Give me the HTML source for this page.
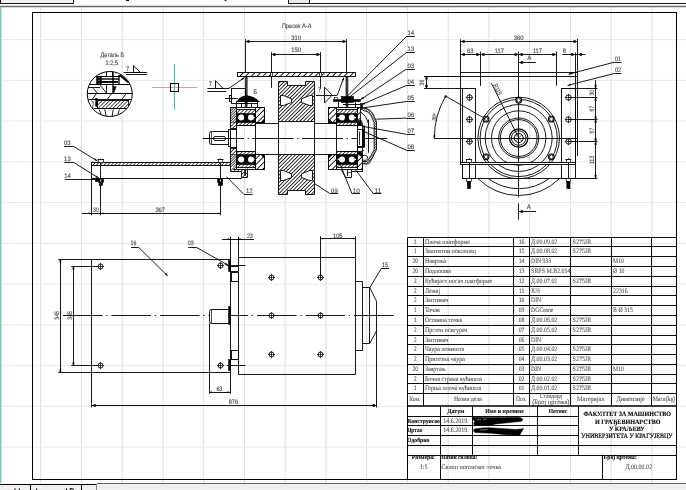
<!DOCTYPE html>
<html><head><meta charset="utf-8"><title>drawing</title>
<style>html,body{margin:0;padding:0;background:#fff;overflow:hidden}svg{shape-rendering:auto;text-rendering:geometricPrecision}</style></head>
<body>
<div style="will-change:transform;width:686px;height:490px;overflow:hidden">
<svg width="686" height="490" viewBox="0 0 686 490" style="display:block">
<defs>
<pattern id="hw" width="2.6" height="2.6" patternUnits="userSpaceOnUse" patternTransform="rotate(-45)"><rect width="2.6" height="2.6" fill="#fff"/><line x1="-1" y1="1.3" x2="4" y2="1.3" stroke="#000" stroke-width="0.8"/></pattern>
<pattern id="hp" width="4.1" height="4.1" patternUnits="userSpaceOnUse" patternTransform="rotate(-45)"><rect width="4.1" height="4.1" fill="#fff"/><line x1="-1" y1="2.05" x2="6" y2="2.05" stroke="#000" stroke-width="0.9"/></pattern>
<pattern id="hs" width="2.6" height="2.6" patternUnits="userSpaceOnUse" patternTransform="rotate(-45)"><rect width="2.6" height="2.6" fill="#fff"/><line x1="0" y1="0" x2="2.6" y2="0" stroke="#000" stroke-width="1.3"/></pattern>
<pattern id="hb" width="2.6" height="2.6" patternUnits="userSpaceOnUse" patternTransform="rotate(-45)"><rect width="2.6" height="2.6" fill="#000"/><line x1="0" y1="0" x2="2.6" y2="0" stroke="#fff" stroke-width="0.9"/><line x1="1.3" y1="0" x2="1.3" y2="1.2" stroke="#fff" stroke-width="0.5"/></pattern>
<pattern id="hd" width="1.8" height="1.8" patternUnits="userSpaceOnUse" patternTransform="rotate(-45)"><rect width="1.8" height="1.8" fill="#fff"/><line x1="0" y1="0" x2="1.8" y2="0" stroke="#000" stroke-width="1.5"/></pattern>
</defs>
<rect x="0" y="0" width="686" height="490" fill="#fff"/>
<line x1="40.71" y1="7" x2="40.71" y2="483.5" stroke="#dedede" stroke-width="1" />
<line x1="81.46" y1="7" x2="81.46" y2="483.5" stroke="#dedede" stroke-width="1" />
<line x1="122.2" y1="7" x2="122.2" y2="483.5" stroke="#dedede" stroke-width="1" />
<line x1="162.95" y1="7" x2="162.95" y2="483.5" stroke="#dedede" stroke-width="1" />
<line x1="203.7" y1="7" x2="203.7" y2="483.5" stroke="#dedede" stroke-width="1" />
<line x1="244.45" y1="7" x2="244.45" y2="483.5" stroke="#dedede" stroke-width="1" />
<line x1="285.19" y1="7" x2="285.19" y2="483.5" stroke="#dedede" stroke-width="1" />
<line x1="325.94" y1="7" x2="325.94" y2="483.5" stroke="#dedede" stroke-width="1" />
<line x1="366.69" y1="7" x2="366.69" y2="483.5" stroke="#dedede" stroke-width="1" />
<line x1="407.43" y1="7" x2="407.43" y2="483.5" stroke="#dedede" stroke-width="1" />
<line x1="448.18" y1="7" x2="448.18" y2="483.5" stroke="#dedede" stroke-width="1" />
<line x1="488.93" y1="7" x2="488.93" y2="483.5" stroke="#dedede" stroke-width="1" />
<line x1="529.67" y1="7" x2="529.67" y2="483.5" stroke="#dedede" stroke-width="1" />
<line x1="570.42" y1="7" x2="570.42" y2="483.5" stroke="#dedede" stroke-width="1" />
<line x1="611.17" y1="7" x2="611.17" y2="483.5" stroke="#dedede" stroke-width="1" />
<line x1="651.92" y1="7" x2="651.92" y2="483.5" stroke="#dedede" stroke-width="1" />
<line x1="1.5" y1="39.6" x2="686" y2="39.6" stroke="#e9e9e9" stroke-width="1" />
<line x1="1.5" y1="80.35" x2="686" y2="80.35" stroke="#e9e9e9" stroke-width="1" />
<line x1="1.5" y1="121.1" x2="686" y2="121.1" stroke="#e9e9e9" stroke-width="1" />
<line x1="1.5" y1="161.85" x2="686" y2="161.85" stroke="#e9e9e9" stroke-width="1" />
<line x1="1.5" y1="202.6" x2="686" y2="202.6" stroke="#e9e9e9" stroke-width="1" />
<line x1="1.5" y1="243.35" x2="686" y2="243.35" stroke="#e9e9e9" stroke-width="1" />
<line x1="1.5" y1="284.1" x2="686" y2="284.1" stroke="#e9e9e9" stroke-width="1" />
<line x1="1.5" y1="324.85" x2="686" y2="324.85" stroke="#e9e9e9" stroke-width="1" />
<line x1="1.5" y1="365.6" x2="686" y2="365.6" stroke="#e9e9e9" stroke-width="1" />
<line x1="1.5" y1="406.35" x2="686" y2="406.35" stroke="#e9e9e9" stroke-width="1" />
<line x1="1.5" y1="447.1" x2="686" y2="447.1" stroke="#e9e9e9" stroke-width="1" />
<rect x="0.5" y="-0.5" width="73.0" height="4.0" stroke="#000" stroke-width="0.9" fill="#f0f0f0" />
<rect x="288.5" y="-0.5" width="21.0" height="4.0" stroke="#000" stroke-width="0.9" fill="#e8e8e8" />
<line x1="309" y1="3.5" x2="686" y2="3.5" stroke="#000" stroke-width="0.9" />
<rect x="126" y="-1" width="3" height="2" stroke="none" stroke-width="0" fill="#000" />
<rect x="224.5" y="-1" width="2.0" height="1.8" stroke="none" stroke-width="0" fill="#000" />
<line x1="0" y1="6.5" x2="686" y2="6.5" stroke="#6a6a6a" stroke-width="1.3" />
<rect x="0" y="6.8" width="1.4" height="476.4" stroke="none" stroke-width="0" fill="#6ccfb0" />
<rect x="0" y="484" width="686" height="7" stroke="none" stroke-width="0" fill="#efefef" />
<line x1="0" y1="484.5" x2="97" y2="484.5" stroke="#000" stroke-width="1" />
<line x1="97" y1="483.5" x2="686" y2="483.5" stroke="#555" stroke-width="0.9" />
<line x1="30.5" y1="484" x2="30.5" y2="490" stroke="#000" stroke-width="1" />
<line x1="81.5" y1="484" x2="81.5" y2="490" stroke="#000" stroke-width="1" />
<line x1="96.5" y1="484" x2="96.5" y2="490" stroke="#777" stroke-width="0.9" />
<line x1="15" y1="488.4" x2="15" y2="490" stroke="#000" stroke-width="1.1" />
<line x1="19.3" y1="488.4" x2="19.3" y2="490" stroke="#000" stroke-width="1.1" />
<line x1="36.6" y1="488.4" x2="36.6" y2="490" stroke="#000" stroke-width="1.1" />
<line x1="66.5" y1="488.4" x2="66.5" y2="490" stroke="#000" stroke-width="1.1" />
<path d="M70.2 490 L70.2 488.6 L72 488.6 Q73.8 489 73.8 490" stroke="#000" stroke-width="1.0" fill="none" />
<rect x="32.5" y="12.5" width="644.0" height="467.0" stroke="#000" stroke-width="1.0" fill="none" />
<line x1="407.5" y1="237.5" x2="676.5" y2="237.5" stroke="#000" stroke-width="0.95" />
<line x1="407.5" y1="246.5" x2="676.5" y2="246.5" stroke="#000" stroke-width="0.95" />
<line x1="407.5" y1="256.5" x2="676.5" y2="256.5" stroke="#000" stroke-width="0.95" />
<line x1="407.5" y1="266.5" x2="676.5" y2="266.5" stroke="#000" stroke-width="0.95" />
<line x1="407.5" y1="276.5" x2="676.5" y2="276.5" stroke="#000" stroke-width="0.95" />
<line x1="407.5" y1="286.5" x2="676.5" y2="286.5" stroke="#000" stroke-width="0.95" />
<line x1="407.5" y1="295.5" x2="676.5" y2="295.5" stroke="#000" stroke-width="0.95" />
<line x1="407.5" y1="305.5" x2="676.5" y2="305.5" stroke="#000" stroke-width="0.95" />
<line x1="407.5" y1="315.5" x2="676.5" y2="315.5" stroke="#000" stroke-width="0.95" />
<line x1="407.5" y1="325.5" x2="676.5" y2="325.5" stroke="#000" stroke-width="0.95" />
<line x1="407.5" y1="335.5" x2="676.5" y2="335.5" stroke="#000" stroke-width="0.95" />
<line x1="407.5" y1="344.5" x2="676.5" y2="344.5" stroke="#000" stroke-width="0.95" />
<line x1="407.5" y1="354.5" x2="676.5" y2="354.5" stroke="#000" stroke-width="0.95" />
<line x1="407.5" y1="364.5" x2="676.5" y2="364.5" stroke="#000" stroke-width="0.95" />
<line x1="407.5" y1="374.5" x2="676.5" y2="374.5" stroke="#000" stroke-width="0.95" />
<line x1="407.5" y1="383.5" x2="676.5" y2="383.5" stroke="#000" stroke-width="0.95" />
<line x1="407.5" y1="393.5" x2="676.5" y2="393.5" stroke="#000" stroke-width="0.95" />
<line x1="407.5" y1="237.8" x2="407.5" y2="405.8" stroke="#000" stroke-width="0.95" />
<line x1="423.5" y1="237.8" x2="423.5" y2="405.8" stroke="#000" stroke-width="0.95" />
<line x1="513.5" y1="237.8" x2="513.5" y2="405.8" stroke="#000" stroke-width="0.95" />
<line x1="529.5" y1="237.8" x2="529.5" y2="405.8" stroke="#000" stroke-width="0.95" />
<line x1="570.5" y1="237.8" x2="570.5" y2="405.8" stroke="#000" stroke-width="0.95" />
<line x1="611.5" y1="237.8" x2="611.5" y2="405.8" stroke="#000" stroke-width="0.95" />
<line x1="651.5" y1="237.8" x2="651.5" y2="405.8" stroke="#000" stroke-width="0.95" />
<text x="415.3" y="244.3" font-family="'Liberation Serif', serif" font-size="6.7" font-weight="normal" text-anchor="middle" fill="#5a5a5a" textLength="2.9" lengthAdjust="spacingAndGlyphs"  stroke="#5a5a5a" stroke-width="0.12">1</text>
<text x="424.9" y="244.3" font-family="'Liberation Serif', serif" font-size="6.7" font-weight="normal" text-anchor="start" fill="#5a5a5a" textLength="45" lengthAdjust="spacingAndGlyphs"  stroke="#5a5a5a" stroke-width="0.12">Плоча платформе</text>
<text x="521.6" y="244.3" font-family="'Liberation Serif', serif" font-size="6.7" font-weight="normal" text-anchor="middle" fill="#5a5a5a" textLength="5.8" lengthAdjust="spacingAndGlyphs"  stroke="#5a5a5a" stroke-width="0.12">16</text>
<text x="531.1" y="244.3" font-family="'Liberation Serif', serif" font-size="6.7" font-weight="normal" text-anchor="start" fill="#5a5a5a" textLength="26.2" lengthAdjust="spacingAndGlyphs"  stroke="#5a5a5a" stroke-width="0.12">Д.00.09.02</text>
<text x="572.6" y="244.3" font-family="'Liberation Serif', serif" font-size="6.7" font-weight="normal" text-anchor="start" fill="#5a5a5a" textLength="18.6" lengthAdjust="spacingAndGlyphs"  stroke="#5a5a5a" stroke-width="0.12">S275JR</text>
<text x="415.3" y="253.2" font-family="'Liberation Serif', serif" font-size="6.7" font-weight="normal" text-anchor="middle" fill="#5a5a5a" textLength="2.9" lengthAdjust="spacingAndGlyphs"  stroke="#5a5a5a" stroke-width="0.12">1</text>
<text x="424.9" y="253.2" font-family="'Liberation Serif', serif" font-size="6.7" font-weight="normal" text-anchor="start" fill="#5a5a5a" textLength="51" lengthAdjust="spacingAndGlyphs"  stroke="#5a5a5a" stroke-width="0.12">Заштитни поклопац</text>
<text x="521.6" y="253.2" font-family="'Liberation Serif', serif" font-size="6.7" font-weight="normal" text-anchor="middle" fill="#5a5a5a" textLength="5.8" lengthAdjust="spacingAndGlyphs"  stroke="#5a5a5a" stroke-width="0.12">15</text>
<text x="531.1" y="253.2" font-family="'Liberation Serif', serif" font-size="6.7" font-weight="normal" text-anchor="start" fill="#5a5a5a" textLength="26.2" lengthAdjust="spacingAndGlyphs"  stroke="#5a5a5a" stroke-width="0.12">Д.00.08.02</text>
<text x="572.6" y="253.2" font-family="'Liberation Serif', serif" font-size="6.7" font-weight="normal" text-anchor="start" fill="#5a5a5a" textLength="18.6" lengthAdjust="spacingAndGlyphs"  stroke="#5a5a5a" stroke-width="0.12">S275JR</text>
<text x="415.3" y="263.0" font-family="'Liberation Serif', serif" font-size="6.7" font-weight="normal" text-anchor="middle" fill="#5a5a5a" textLength="5.8" lengthAdjust="spacingAndGlyphs"  stroke="#5a5a5a" stroke-width="0.12">20</text>
<text x="424.9" y="263.0" font-family="'Liberation Serif', serif" font-size="6.7" font-weight="normal" text-anchor="start" fill="#5a5a5a" textLength="21" lengthAdjust="spacingAndGlyphs"  stroke="#5a5a5a" stroke-width="0.12">Навртка</text>
<text x="521.6" y="263.0" font-family="'Liberation Serif', serif" font-size="6.7" font-weight="normal" text-anchor="middle" fill="#5a5a5a" textLength="5.8" lengthAdjust="spacingAndGlyphs"  stroke="#5a5a5a" stroke-width="0.12">14</text>
<text x="531.1" y="263.0" font-family="'Liberation Serif', serif" font-size="6.7" font-weight="normal" text-anchor="start" fill="#5a5a5a" textLength="20" lengthAdjust="spacingAndGlyphs"  stroke="#5a5a5a" stroke-width="0.12">DIN 933</text>
<text x="613.1" y="263.0" font-family="'Liberation Serif', serif" font-size="6.7" font-weight="normal" text-anchor="start" fill="#5a5a5a" textLength="10.9" lengthAdjust="spacingAndGlyphs"  stroke="#5a5a5a" stroke-width="0.12">M10</text>
<text x="415.3" y="272.8" font-family="'Liberation Serif', serif" font-size="6.7" font-weight="normal" text-anchor="middle" fill="#5a5a5a" textLength="5.8" lengthAdjust="spacingAndGlyphs"  stroke="#5a5a5a" stroke-width="0.12">20</text>
<text x="424.9" y="272.8" font-family="'Liberation Serif', serif" font-size="6.7" font-weight="normal" text-anchor="start" fill="#5a5a5a" textLength="26" lengthAdjust="spacingAndGlyphs"  stroke="#5a5a5a" stroke-width="0.12">Подлошка</text>
<text x="521.6" y="272.8" font-family="'Liberation Serif', serif" font-size="6.7" font-weight="normal" text-anchor="middle" fill="#5a5a5a" textLength="5.8" lengthAdjust="spacingAndGlyphs"  stroke="#5a5a5a" stroke-width="0.12">13</text>
<text x="531.1" y="272.8" font-family="'Liberation Serif', serif" font-size="6.7" font-weight="normal" text-anchor="start" fill="#5a5a5a" textLength="39.4" lengthAdjust="spacingAndGlyphs"  stroke="#5a5a5a" stroke-width="0.12">SRPS M.B2.014</text>
<text x="613.1" y="272.8" font-family="'Liberation Serif', serif" font-size="6.7" font-weight="normal" text-anchor="start" fill="#5a5a5a" textLength="11.4" lengthAdjust="spacingAndGlyphs"  stroke="#5a5a5a" stroke-width="0.12">Ø 10</text>
<text x="415.3" y="282.8" font-family="'Liberation Serif', serif" font-size="6.7" font-weight="normal" text-anchor="middle" fill="#5a5a5a" textLength="2.9" lengthAdjust="spacingAndGlyphs"  stroke="#5a5a5a" stroke-width="0.12">2</text>
<text x="424.9" y="282.8" font-family="'Liberation Serif', serif" font-size="6.7" font-weight="normal" text-anchor="start" fill="#5a5a5a" textLength="67.3" lengthAdjust="spacingAndGlyphs"  stroke="#5a5a5a" stroke-width="0.12">Кућијаст носач платформе</text>
<text x="521.6" y="282.8" font-family="'Liberation Serif', serif" font-size="6.7" font-weight="normal" text-anchor="middle" fill="#5a5a5a" textLength="5.8" lengthAdjust="spacingAndGlyphs"  stroke="#5a5a5a" stroke-width="0.12">12</text>
<text x="531.1" y="282.8" font-family="'Liberation Serif', serif" font-size="6.7" font-weight="normal" text-anchor="start" fill="#5a5a5a" textLength="26.2" lengthAdjust="spacingAndGlyphs"  stroke="#5a5a5a" stroke-width="0.12">Д.00.07.02</text>
<text x="572.6" y="282.8" font-family="'Liberation Serif', serif" font-size="6.7" font-weight="normal" text-anchor="start" fill="#5a5a5a" textLength="18.6" lengthAdjust="spacingAndGlyphs"  stroke="#5a5a5a" stroke-width="0.12">S275JR</text>
<text x="415.3" y="292.6" font-family="'Liberation Serif', serif" font-size="6.7" font-weight="normal" text-anchor="middle" fill="#5a5a5a" textLength="2.9" lengthAdjust="spacingAndGlyphs"  stroke="#5a5a5a" stroke-width="0.12">2</text>
<text x="424.9" y="292.6" font-family="'Liberation Serif', serif" font-size="6.7" font-weight="normal" text-anchor="start" fill="#5a5a5a" textLength="15.3" lengthAdjust="spacingAndGlyphs"  stroke="#5a5a5a" stroke-width="0.12">Лежај</text>
<text x="521.6" y="292.6" font-family="'Liberation Serif', serif" font-size="6.7" font-weight="normal" text-anchor="middle" fill="#5a5a5a" textLength="5.8" lengthAdjust="spacingAndGlyphs"  stroke="#5a5a5a" stroke-width="0.12">11</text>
<text x="531.1" y="292.6" font-family="'Liberation Serif', serif" font-size="6.7" font-weight="normal" text-anchor="start" fill="#5a5a5a" textLength="8.7" lengthAdjust="spacingAndGlyphs"  stroke="#5a5a5a" stroke-width="0.12">JUS</text>
<text x="613.1" y="292.6" font-family="'Liberation Serif', serif" font-size="6.7" font-weight="normal" text-anchor="start" fill="#5a5a5a" textLength="14.6" lengthAdjust="spacingAndGlyphs"  stroke="#5a5a5a" stroke-width="0.12">22316</text>
<text x="415.3" y="302.4" font-family="'Liberation Serif', serif" font-size="6.7" font-weight="normal" text-anchor="middle" fill="#5a5a5a" textLength="2.9" lengthAdjust="spacingAndGlyphs"  stroke="#5a5a5a" stroke-width="0.12">2</text>
<text x="424.9" y="302.4" font-family="'Liberation Serif', serif" font-size="6.7" font-weight="normal" text-anchor="start" fill="#5a5a5a" textLength="23.5" lengthAdjust="spacingAndGlyphs"  stroke="#5a5a5a" stroke-width="0.12">Заптивач</text>
<text x="521.6" y="302.4" font-family="'Liberation Serif', serif" font-size="6.7" font-weight="normal" text-anchor="middle" fill="#5a5a5a" textLength="5.8" lengthAdjust="spacingAndGlyphs"  stroke="#5a5a5a" stroke-width="0.12">10</text>
<text x="531.1" y="302.4" font-family="'Liberation Serif', serif" font-size="6.7" font-weight="normal" text-anchor="start" fill="#5a5a5a" textLength="10" lengthAdjust="spacingAndGlyphs"  stroke="#5a5a5a" stroke-width="0.12">DIN</text>
<text x="415.3" y="312.4" font-family="'Liberation Serif', serif" font-size="6.7" font-weight="normal" text-anchor="middle" fill="#5a5a5a" textLength="2.9" lengthAdjust="spacingAndGlyphs"  stroke="#5a5a5a" stroke-width="0.12">1</text>
<text x="424.9" y="312.4" font-family="'Liberation Serif', serif" font-size="6.7" font-weight="normal" text-anchor="start" fill="#5a5a5a" textLength="15" lengthAdjust="spacingAndGlyphs"  stroke="#5a5a5a" stroke-width="0.12">Точак</text>
<text x="521.6" y="312.4" font-family="'Liberation Serif', serif" font-size="6.7" font-weight="normal" text-anchor="middle" fill="#5a5a5a" textLength="5.8" lengthAdjust="spacingAndGlyphs"  stroke="#5a5a5a" stroke-width="0.12">09</text>
<text x="531.1" y="312.4" font-family="'Liberation Serif', serif" font-size="6.7" font-weight="normal" text-anchor="start" fill="#5a5a5a" textLength="22.3" lengthAdjust="spacingAndGlyphs"  stroke="#5a5a5a" stroke-width="0.12">DGCrane</text>
<text x="613.1" y="312.4" font-family="'Liberation Serif', serif" font-size="6.7" font-weight="normal" text-anchor="start" fill="#5a5a5a" textLength="19.7" lengthAdjust="spacingAndGlyphs"  stroke="#5a5a5a" stroke-width="0.12">B Ø 315</text>
<text x="415.3" y="322.2" font-family="'Liberation Serif', serif" font-size="6.7" font-weight="normal" text-anchor="middle" fill="#5a5a5a" textLength="2.9" lengthAdjust="spacingAndGlyphs"  stroke="#5a5a5a" stroke-width="0.12">1</text>
<text x="424.9" y="322.2" font-family="'Liberation Serif', serif" font-size="6.7" font-weight="normal" text-anchor="start" fill="#5a5a5a" textLength="37.3" lengthAdjust="spacingAndGlyphs"  stroke="#5a5a5a" stroke-width="0.12">Осовина точка</text>
<text x="521.6" y="322.2" font-family="'Liberation Serif', serif" font-size="6.7" font-weight="normal" text-anchor="middle" fill="#5a5a5a" textLength="5.8" lengthAdjust="spacingAndGlyphs"  stroke="#5a5a5a" stroke-width="0.12">08</text>
<text x="531.1" y="322.2" font-family="'Liberation Serif', serif" font-size="6.7" font-weight="normal" text-anchor="start" fill="#5a5a5a" textLength="26.2" lengthAdjust="spacingAndGlyphs"  stroke="#5a5a5a" stroke-width="0.12">Д.00.06.02</text>
<text x="572.6" y="322.2" font-family="'Liberation Serif', serif" font-size="6.7" font-weight="normal" text-anchor="start" fill="#5a5a5a" textLength="18.6" lengthAdjust="spacingAndGlyphs"  stroke="#5a5a5a" stroke-width="0.12">S275JR</text>
<text x="415.3" y="332.0" font-family="'Liberation Serif', serif" font-size="6.7" font-weight="normal" text-anchor="middle" fill="#5a5a5a" textLength="2.9" lengthAdjust="spacingAndGlyphs"  stroke="#5a5a5a" stroke-width="0.12">2</text>
<text x="424.9" y="332.0" font-family="'Liberation Serif', serif" font-size="6.7" font-weight="normal" text-anchor="start" fill="#5a5a5a" textLength="42.4" lengthAdjust="spacingAndGlyphs"  stroke="#5a5a5a" stroke-width="0.12">Прстен осигурач</text>
<text x="521.6" y="332.0" font-family="'Liberation Serif', serif" font-size="6.7" font-weight="normal" text-anchor="middle" fill="#5a5a5a" textLength="5.8" lengthAdjust="spacingAndGlyphs"  stroke="#5a5a5a" stroke-width="0.12">07</text>
<text x="531.1" y="332.0" font-family="'Liberation Serif', serif" font-size="6.7" font-weight="normal" text-anchor="start" fill="#5a5a5a" textLength="26.2" lengthAdjust="spacingAndGlyphs"  stroke="#5a5a5a" stroke-width="0.12">Д.00.05.02</text>
<text x="572.6" y="332.0" font-family="'Liberation Serif', serif" font-size="6.7" font-weight="normal" text-anchor="start" fill="#5a5a5a" textLength="18.6" lengthAdjust="spacingAndGlyphs"  stroke="#5a5a5a" stroke-width="0.12">S275JR</text>
<text x="415.3" y="341.5" font-family="'Liberation Serif', serif" font-size="6.7" font-weight="normal" text-anchor="middle" fill="#5a5a5a" textLength="2.9" lengthAdjust="spacingAndGlyphs"  stroke="#5a5a5a" stroke-width="0.12">2</text>
<text x="424.9" y="341.5" font-family="'Liberation Serif', serif" font-size="6.7" font-weight="normal" text-anchor="start" fill="#5a5a5a" textLength="23.5" lengthAdjust="spacingAndGlyphs"  stroke="#5a5a5a" stroke-width="0.12">Заптивач</text>
<text x="521.6" y="341.5" font-family="'Liberation Serif', serif" font-size="6.7" font-weight="normal" text-anchor="middle" fill="#5a5a5a" textLength="5.8" lengthAdjust="spacingAndGlyphs"  stroke="#5a5a5a" stroke-width="0.12">06</text>
<text x="531.1" y="341.5" font-family="'Liberation Serif', serif" font-size="6.7" font-weight="normal" text-anchor="start" fill="#5a5a5a" textLength="10" lengthAdjust="spacingAndGlyphs"  stroke="#5a5a5a" stroke-width="0.12">DIN</text>
<text x="415.3" y="351.3" font-family="'Liberation Serif', serif" font-size="6.7" font-weight="normal" text-anchor="middle" fill="#5a5a5a" textLength="2.9" lengthAdjust="spacingAndGlyphs"  stroke="#5a5a5a" stroke-width="0.12">2</text>
<text x="424.9" y="351.3" font-family="'Liberation Serif', serif" font-size="6.7" font-weight="normal" text-anchor="start" fill="#5a5a5a" textLength="39.4" lengthAdjust="spacingAndGlyphs"  stroke="#5a5a5a" stroke-width="0.12">Чаура лежишта</text>
<text x="521.6" y="351.3" font-family="'Liberation Serif', serif" font-size="6.7" font-weight="normal" text-anchor="middle" fill="#5a5a5a" textLength="5.8" lengthAdjust="spacingAndGlyphs"  stroke="#5a5a5a" stroke-width="0.12">05</text>
<text x="531.1" y="351.3" font-family="'Liberation Serif', serif" font-size="6.7" font-weight="normal" text-anchor="start" fill="#5a5a5a" textLength="26.2" lengthAdjust="spacingAndGlyphs"  stroke="#5a5a5a" stroke-width="0.12">Д.00.04.02</text>
<text x="572.6" y="351.3" font-family="'Liberation Serif', serif" font-size="6.7" font-weight="normal" text-anchor="start" fill="#5a5a5a" textLength="18.6" lengthAdjust="spacingAndGlyphs"  stroke="#5a5a5a" stroke-width="0.12">S275JR</text>
<text x="415.3" y="361.0" font-family="'Liberation Serif', serif" font-size="6.7" font-weight="normal" text-anchor="middle" fill="#5a5a5a" textLength="2.9" lengthAdjust="spacingAndGlyphs"  stroke="#5a5a5a" stroke-width="0.12">2</text>
<text x="424.9" y="361.0" font-family="'Liberation Serif', serif" font-size="6.7" font-weight="normal" text-anchor="start" fill="#5a5a5a" textLength="40" lengthAdjust="spacingAndGlyphs"  stroke="#5a5a5a" stroke-width="0.12">Притезна чаура</text>
<text x="521.6" y="361.0" font-family="'Liberation Serif', serif" font-size="6.7" font-weight="normal" text-anchor="middle" fill="#5a5a5a" textLength="5.8" lengthAdjust="spacingAndGlyphs"  stroke="#5a5a5a" stroke-width="0.12">04</text>
<text x="531.1" y="361.0" font-family="'Liberation Serif', serif" font-size="6.7" font-weight="normal" text-anchor="start" fill="#5a5a5a" textLength="26.2" lengthAdjust="spacingAndGlyphs"  stroke="#5a5a5a" stroke-width="0.12">Д.00.03.02</text>
<text x="572.6" y="361.0" font-family="'Liberation Serif', serif" font-size="6.7" font-weight="normal" text-anchor="start" fill="#5a5a5a" textLength="18.6" lengthAdjust="spacingAndGlyphs"  stroke="#5a5a5a" stroke-width="0.12">S275JR</text>
<text x="415.3" y="370.8" font-family="'Liberation Serif', serif" font-size="6.7" font-weight="normal" text-anchor="middle" fill="#5a5a5a" textLength="5.8" lengthAdjust="spacingAndGlyphs"  stroke="#5a5a5a" stroke-width="0.12">20</text>
<text x="424.9" y="370.8" font-family="'Liberation Serif', serif" font-size="6.7" font-weight="normal" text-anchor="start" fill="#5a5a5a" textLength="21" lengthAdjust="spacingAndGlyphs"  stroke="#5a5a5a" stroke-width="0.12">Завртањ</text>
<text x="521.6" y="370.8" font-family="'Liberation Serif', serif" font-size="6.7" font-weight="normal" text-anchor="middle" fill="#5a5a5a" textLength="5.8" lengthAdjust="spacingAndGlyphs"  stroke="#5a5a5a" stroke-width="0.12">03</text>
<text x="531.1" y="370.8" font-family="'Liberation Serif', serif" font-size="6.7" font-weight="normal" text-anchor="start" fill="#5a5a5a" textLength="10" lengthAdjust="spacingAndGlyphs"  stroke="#5a5a5a" stroke-width="0.12">DIN</text>
<text x="572.6" y="370.8" font-family="'Liberation Serif', serif" font-size="6.7" font-weight="normal" text-anchor="start" fill="#5a5a5a" textLength="18.6" lengthAdjust="spacingAndGlyphs"  stroke="#5a5a5a" stroke-width="0.12">S275JR</text>
<text x="613.1" y="370.8" font-family="'Liberation Serif', serif" font-size="6.7" font-weight="normal" text-anchor="start" fill="#5a5a5a" textLength="10.9" lengthAdjust="spacingAndGlyphs"  stroke="#5a5a5a" stroke-width="0.12">M10</text>
<text x="415.3" y="380.6" font-family="'Liberation Serif', serif" font-size="6.7" font-weight="normal" text-anchor="middle" fill="#5a5a5a" textLength="2.9" lengthAdjust="spacingAndGlyphs"  stroke="#5a5a5a" stroke-width="0.12">2</text>
<text x="424.9" y="380.6" font-family="'Liberation Serif', serif" font-size="6.7" font-weight="normal" text-anchor="start" fill="#5a5a5a" textLength="57.1" lengthAdjust="spacingAndGlyphs"  stroke="#5a5a5a" stroke-width="0.12">Бочна страна кућишта</text>
<text x="521.6" y="380.6" font-family="'Liberation Serif', serif" font-size="6.7" font-weight="normal" text-anchor="middle" fill="#5a5a5a" textLength="5.8" lengthAdjust="spacingAndGlyphs"  stroke="#5a5a5a" stroke-width="0.12">02</text>
<text x="531.1" y="380.6" font-family="'Liberation Serif', serif" font-size="6.7" font-weight="normal" text-anchor="start" fill="#5a5a5a" textLength="26.2" lengthAdjust="spacingAndGlyphs"  stroke="#5a5a5a" stroke-width="0.12">Д.00.02.02</text>
<text x="572.6" y="380.6" font-family="'Liberation Serif', serif" font-size="6.7" font-weight="normal" text-anchor="start" fill="#5a5a5a" textLength="18.6" lengthAdjust="spacingAndGlyphs"  stroke="#5a5a5a" stroke-width="0.12">S275JR</text>
<text x="415.3" y="390.4" font-family="'Liberation Serif', serif" font-size="6.7" font-weight="normal" text-anchor="middle" fill="#5a5a5a" textLength="2.9" lengthAdjust="spacingAndGlyphs"  stroke="#5a5a5a" stroke-width="0.12">1</text>
<text x="424.9" y="390.4" font-family="'Liberation Serif', serif" font-size="6.7" font-weight="normal" text-anchor="start" fill="#5a5a5a" textLength="56.3" lengthAdjust="spacingAndGlyphs"  stroke="#5a5a5a" stroke-width="0.12">Горња плоча кућишта</text>
<text x="521.6" y="390.4" font-family="'Liberation Serif', serif" font-size="6.7" font-weight="normal" text-anchor="middle" fill="#5a5a5a" textLength="5.8" lengthAdjust="spacingAndGlyphs"  stroke="#5a5a5a" stroke-width="0.12">01</text>
<text x="531.1" y="390.4" font-family="'Liberation Serif', serif" font-size="6.7" font-weight="normal" text-anchor="start" fill="#5a5a5a" textLength="26.2" lengthAdjust="spacingAndGlyphs"  stroke="#5a5a5a" stroke-width="0.12">Д.00.01.02</text>
<text x="572.6" y="390.4" font-family="'Liberation Serif', serif" font-size="6.7" font-weight="normal" text-anchor="start" fill="#5a5a5a" textLength="18.6" lengthAdjust="spacingAndGlyphs"  stroke="#5a5a5a" stroke-width="0.12">S275JR</text>
<text x="414.8" y="401.4" font-family="'Liberation Serif', serif" font-size="6.7" font-weight="normal" text-anchor="middle" fill="#5a5a5a" textLength="11.2" lengthAdjust="spacingAndGlyphs"  stroke="#5a5a5a" stroke-width="0.12">Ком.</text>
<text x="468" y="401.4" font-family="'Liberation Serif', serif" font-size="6.7" font-weight="normal" text-anchor="middle" fill="#5a5a5a" textLength="28" lengthAdjust="spacingAndGlyphs"  stroke="#5a5a5a" stroke-width="0.12">Назив дела</text>
<text x="521.2" y="401.4" font-family="'Liberation Serif', serif" font-size="6.7" font-weight="normal" text-anchor="middle" fill="#5a5a5a" textLength="10.5" lengthAdjust="spacingAndGlyphs"  stroke="#5a5a5a" stroke-width="0.12">Поз.</text>
<text x="551" y="398.0" font-family="'Liberation Serif', serif" font-size="6.7" font-weight="normal" text-anchor="middle" fill="#5a5a5a" textLength="22.3" lengthAdjust="spacingAndGlyphs"  stroke="#5a5a5a" stroke-width="0.12">Стандард</text>
<text x="550.8" y="404.4" font-family="'Liberation Serif', serif" font-size="6.7" font-weight="normal" text-anchor="middle" fill="#5a5a5a" textLength="37.2" lengthAdjust="spacingAndGlyphs"  stroke="#5a5a5a" stroke-width="0.12">(Број цртежа)</text>
<text x="590.7" y="400.9" font-family="'Liberation Serif', serif" font-size="6.7" font-weight="normal" text-anchor="middle" fill="#5a5a5a" textLength="27.3" lengthAdjust="spacingAndGlyphs"  stroke="#5a5a5a" stroke-width="0.12">Материјал</text>
<text x="630.6" y="400.9" font-family="'Liberation Serif', serif" font-size="6.7" font-weight="normal" text-anchor="middle" fill="#5a5a5a" textLength="28.4" lengthAdjust="spacingAndGlyphs"  stroke="#5a5a5a" stroke-width="0.12">Димензије</text>
<text x="664" y="400.9" font-family="'Liberation Serif', serif" font-size="6.7" font-weight="normal" text-anchor="middle" fill="#5a5a5a" textLength="22.6" lengthAdjust="spacingAndGlyphs"  stroke="#5a5a5a" stroke-width="0.12">Маса(kg)</text>
<line x1="407.5" y1="406.0" x2="676.5" y2="406.0" stroke="#000" stroke-width="1.4" />
<line x1="407.5" y1="405.8" x2="407.5" y2="479.3" stroke="#000" stroke-width="1.0" />
<line x1="407.5" y1="416.5" x2="578.3" y2="416.5" stroke="#000" stroke-width="0.95" />
<line x1="407.5" y1="425.5" x2="578.3" y2="425.5" stroke="#000" stroke-width="0.95" />
<line x1="407.5" y1="435.5" x2="578.3" y2="435.5" stroke="#000" stroke-width="0.95" />
<line x1="407.5" y1="445.5" x2="676.5" y2="445.5" stroke="#000" stroke-width="0.95" />
<line x1="407.5" y1="455.5" x2="676.5" y2="455.5" stroke="#000" stroke-width="0.95" />
<line x1="440.5" y1="405.8" x2="440.5" y2="454.8" stroke="#000" stroke-width="0.95" />
<line x1="472.5" y1="405.8" x2="472.5" y2="454.8" stroke="#000" stroke-width="0.95" />
<line x1="537.5" y1="405.8" x2="537.5" y2="454.8" stroke="#000" stroke-width="0.95" />
<line x1="578.5" y1="405.8" x2="578.5" y2="454.8" stroke="#000" stroke-width="0.95" />
<line x1="440.5" y1="454.8" x2="440.5" y2="479.3" stroke="#000" stroke-width="0.95" />
<line x1="602.5" y1="454.8" x2="602.5" y2="479.3" stroke="#000" stroke-width="0.95" />
<text x="455.8" y="412.9" font-family="'Liberation Serif', serif" font-size="6.2" font-weight="bold" text-anchor="middle" fill="#111" textLength="17" lengthAdjust="spacingAndGlyphs"  stroke="#111" stroke-width="0.12">Датум</text>
<text x="504.6" y="412.9" font-family="'Liberation Serif', serif" font-size="6.2" font-weight="bold" text-anchor="middle" fill="#111" textLength="38.6" lengthAdjust="spacingAndGlyphs"  stroke="#111" stroke-width="0.12">Име и презиме</text>
<text x="558" y="412.9" font-family="'Liberation Serif', serif" font-size="6.2" font-weight="bold" text-anchor="middle" fill="#111" textLength="18.4" lengthAdjust="spacingAndGlyphs"  stroke="#111" stroke-width="0.12">Потпис</text>
<clipPath id="cl"><rect x="407.9" y="405" width="40" height="50"/></clipPath>
<text x="407.7" y="422.9" font-family="'Liberation Serif', serif" font-size="6.2" font-weight="bold" text-anchor="start" fill="#111" textLength="32.2" lengthAdjust="spacingAndGlyphs" clip-path="url(#cl)" stroke="#111" stroke-width="0.12">Конструисао</text>
<text x="407.2" y="432.3" font-family="'Liberation Serif', serif" font-size="6.2" font-weight="bold" text-anchor="start" fill="#111" textLength="15.2" lengthAdjust="spacingAndGlyphs" clip-path="url(#cl)" stroke="#111" stroke-width="0.12">Цртао</text>
<text x="407.0" y="442.0" font-family="'Liberation Serif', serif" font-size="6.2" font-weight="bold" text-anchor="start" fill="#111" textLength="22.4" lengthAdjust="spacingAndGlyphs" clip-path="url(#cl)" stroke="#111" stroke-width="0.12">Одобрио</text>
<text x="443.3" y="422.9" font-family="'Liberation Serif', serif" font-size="6.7" font-weight="normal" text-anchor="start" fill="#555" textLength="25.4" lengthAdjust="spacingAndGlyphs"  stroke="#555" stroke-width="0.12">14.6.2019.</text>
<text x="443.3" y="432.2" font-family="'Liberation Serif', serif" font-size="6.7" font-weight="normal" text-anchor="start" fill="#555" textLength="25.4" lengthAdjust="spacingAndGlyphs"  stroke="#555" stroke-width="0.12">14.6.2019.</text>
<path d="M472.2 417.3 L486.7 417.6 L505.3 417.4 L517.4 417.3 Q522.8 417.8 522.7 419.6 Q522.8 421.2 519 421.6 L512.8 422.2 L496 424 L489.5 425.4 L474.5 425.4 L473.6 423.1 L475 421.2 L472.2 418.9 Z" stroke="#000" stroke-width="0.5" fill="#000" stroke-linejoin="round"/>
<line x1="476.4" y1="419.9" x2="481" y2="419.6" stroke="#ddd" stroke-width="0.5" />
<line x1="483" y1="419.4" x2="486.7" y2="419.2" stroke="#ddd" stroke-width="0.5" />
<path d="M474.1 429.1 L482 427.9 L489.5 427.7 L505.3 428.7 L516.5 429.6 L523.5 428.6 L521.2 432.4 L519.8 435 L509 435 L491.3 433.3 L475 432.6 L473.6 431 Z" stroke="#000" stroke-width="0.5" fill="#000" stroke-linejoin="round"/>
<line x1="480.1" y1="429.9" x2="487.6" y2="429.6" stroke="#ddd" stroke-width="0.5" />
<text x="423.4" y="459.2" font-family="'Liberation Serif', serif" font-size="6.2" font-weight="bold" text-anchor="middle" fill="#111" textLength="23.1" lengthAdjust="spacingAndGlyphs"  stroke="#111" stroke-width="0.12">Размера:</text>
<text x="441.2" y="459.2" font-family="'Liberation Serif', serif" font-size="6.2" font-weight="bold" text-anchor="start" fill="#111" textLength="36.2" lengthAdjust="spacingAndGlyphs"  stroke="#111" stroke-width="0.12">Назив склопа:</text>
<text x="423.6" y="469.4" font-family="'Liberation Serif', serif" font-size="6.7" font-weight="normal" text-anchor="middle" fill="#5a5a5a" textLength="7.8" lengthAdjust="spacingAndGlyphs"  stroke="#5a5a5a" stroke-width="0.12">1:5</text>
<text x="441.5" y="469.4" font-family="'Liberation Serif', serif" font-size="6.7" font-weight="normal" text-anchor="start" fill="#5a5a5a" textLength="59.5" lengthAdjust="spacingAndGlyphs"  stroke="#5a5a5a" stroke-width="0.12">Склоп погонског точка</text>
<text x="627.3" y="416.4" font-family="'Liberation Serif', serif" font-size="6.6" font-weight="bold" text-anchor="middle" fill="#000" textLength="87.5" lengthAdjust="spacingAndGlyphs"  stroke="#000" stroke-width="0.12">ФАКУЛТЕТ ЗА МАШИНСТВО</text>
<text x="627.7" y="423.6" font-family="'Liberation Serif', serif" font-size="6.6" font-weight="bold" text-anchor="middle" fill="#000" textLength="65.6" lengthAdjust="spacingAndGlyphs"  stroke="#000" stroke-width="0.12">И ГРАЂЕВИНАРСТВО</text>
<text x="626.8" y="430.7" font-family="'Liberation Serif', serif" font-size="6.6" font-weight="bold" text-anchor="middle" fill="#000" textLength="35.8" lengthAdjust="spacingAndGlyphs"  stroke="#000" stroke-width="0.12">У КРАЉЕВУ</text>
<text x="627" y="437.8" font-family="'Liberation Serif', serif" font-size="6.6" font-weight="normal" text-anchor="middle" fill="#000" textLength="91.3" lengthAdjust="spacingAndGlyphs" stroke="#000" stroke-width="0.2" >УНИВЕРЗИТЕТА У КРАГУЈЕВЦУ</text>
<text x="603.6" y="459.2" font-family="'Liberation Serif', serif" font-size="6.2" font-weight="bold" text-anchor="start" fill="#111" textLength="33.2" lengthAdjust="spacingAndGlyphs"  stroke="#111" stroke-width="0.12">Број цртежа:</text>
<text x="638.8" y="469.4" font-family="'Liberation Serif', serif" font-size="6.7" font-weight="normal" text-anchor="middle" fill="#5a5a5a" textLength="26.7" lengthAdjust="spacingAndGlyphs"  stroke="#5a5a5a" stroke-width="0.12">Д.00.00.02</text>
<text x="296.7" y="28.2" font-family="'Liberation Sans', sans-serif" font-size="6.4" font-weight="normal" text-anchor="middle" fill="#555" textLength="29.4" lengthAdjust="spacingAndGlyphs"  stroke="#555" stroke-width="0.18">Пресек А-А</text>
<text x="296.2" y="39.6" font-family="'Liberation Sans', sans-serif" font-size="6.4" font-weight="normal" text-anchor="middle" fill="#555" textLength="9.8" lengthAdjust="spacingAndGlyphs"  stroke="#555" stroke-width="0.18">310</text>
<text x="296.2" y="52.4" font-family="'Liberation Sans', sans-serif" font-size="6.4" font-weight="normal" text-anchor="middle" fill="#555" textLength="9.8" lengthAdjust="spacingAndGlyphs"  stroke="#555" stroke-width="0.18">150</text>
<line x1="245.5" y1="39.1" x2="245.5" y2="72.6" stroke="#000" stroke-width="0.9" />
<line x1="346.5" y1="39.1" x2="346.5" y2="72.6" stroke="#000" stroke-width="0.9" />
<line x1="245.5" y1="41.5" x2="346.7" y2="41.5" stroke="#000" stroke-width="0.9" />
<rect x="247.10" y="40.20" width="2.8" height="2.6" rx="0.7" fill="#000"/>
<rect x="342.30" y="40.20" width="2.8" height="2.6" rx="0.7" fill="#000"/>
<line x1="271.5" y1="52.2" x2="271.5" y2="87.8" stroke="#000" stroke-width="0.9" />
<line x1="320.5" y1="52.2" x2="320.5" y2="89" stroke="#000" stroke-width="0.9" />
<line x1="271.4" y1="54.5" x2="320.5" y2="54.5" stroke="#000" stroke-width="0.9" />
<rect x="273.00" y="53.20" width="2.8" height="2.6" rx="0.7" fill="#000"/>
<rect x="316.10" y="53.20" width="2.8" height="2.6" rx="0.7" fill="#000"/>
<rect x="237.5" y="72.5" width="118.0" height="4.0" stroke="#000" stroke-width="0.9" fill="url(#hp)" />
<rect x="270.4" y="73.1" width="2.2" height="2.8" stroke="none" stroke-width="0" fill="#fff" />
<line x1="270.5" y1="72.6" x2="270.5" y2="76.4" stroke="#000" stroke-width="0.7" />
<line x1="272.5" y1="72.6" x2="272.5" y2="76.4" stroke="#000" stroke-width="0.7" />
<rect x="319.4" y="73.1" width="2.2" height="2.8" stroke="none" stroke-width="0" fill="#fff" />
<line x1="319.5" y1="72.6" x2="319.5" y2="76.4" stroke="#000" stroke-width="0.7" />
<line x1="321.5" y1="72.6" x2="321.5" y2="76.4" stroke="#000" stroke-width="0.7" />
<rect x="245.3" y="76.4" width="1.8" height="30.2" stroke="#000" stroke-width="0.7" fill="#555" />
<rect x="346.0" y="76.4" width="1.9" height="31.0" stroke="#000" stroke-width="0.7" fill="#555" />
<line x1="203" y1="138.5" x2="387.4" y2="138.5" stroke="#000" stroke-width="0.9" stroke-dasharray="41 3.7 1.3 3.5"/>
<path d="M278.5 121.5 L278.5 81.5 L287.5 81.5 L287.5 85.5 L305.5 85.5 L305.5 81.5 L314.5 81.5 L314.5 121.5 Z" stroke="#000" stroke-width="0.9" fill="url(#hw)" />
<path d="M280.5 95.5 L283.4 95.5 L291.5 98.8 L291.5 102.5 L283.4 105.5 L280.5 105.5 Z" stroke="#000" stroke-width="0.9" fill="#fff" />
<path d="M312.5 95.5 L309.70000000000005 95.5 L301.5 98.8 L301.5 102.5 L309.70000000000005 105.5 L312.5 105.5 Z" stroke="#000" stroke-width="0.9" fill="#fff" />
<path d="M278.5 154.5 L278.5 194.5 L287.5 194.5 L287.5 190.5 L305.5 190.5 L305.5 194.5 L314.5 194.5 L314.5 154.5 Z" stroke="#000" stroke-width="0.9" fill="url(#hw)" />
<path d="M280.5 180.5 L283.4 180.5 L291.5 177.5 L291.5 173.8 L283.4 170.5 L280.5 170.5 Z" stroke="#000" stroke-width="0.9" fill="#fff" />
<path d="M312.5 180.5 L309.70000000000005 180.5 L301.5 177.5 L301.5 173.8 L309.70000000000005 170.5 L312.5 170.5 Z" stroke="#000" stroke-width="0.9" fill="#fff" />
<line x1="278.5" y1="121.5" x2="278.5" y2="154.8" stroke="#000" stroke-width="0.9" />
<line x1="314.5" y1="121.5" x2="314.5" y2="154.8" stroke="#000" stroke-width="0.9" />
<path d="M230.1 129.5 L236.5 129.5 L236.5 125.5 L255.5 125.5 L255.5 123.5 L278.5 123.5" stroke="#000" stroke-width="0.9" fill="none" />
<path d="M314.6 123.5 L336.5 123.5 L336.5 125.5 L357.5 125.5 L357.5 129.5 L363.5 129.5 L363.5 138" stroke="#000" stroke-width="0.9" fill="none" />
<path d="M230.1 147.5 L236.5 147.5 L236.5 151.5 L255.5 151.5 L255.5 154.5 L278.5 154.5" stroke="#000" stroke-width="0.9" fill="none" />
<path d="M314.6 154.5 L336.5 154.5 L336.5 151.5 L357.5 151.5 L357.5 147.5 L363.5 147.5 L363.5 139" stroke="#000" stroke-width="0.9" fill="none" />
<line x1="236.5" y1="125.4" x2="236.5" y2="151.6" stroke="#000" stroke-width="0.9" />
<line x1="255.5" y1="125.4" x2="255.5" y2="151.6" stroke="#000" stroke-width="0.9" />
<line x1="336.5" y1="125.4" x2="336.5" y2="151.6" stroke="#000" stroke-width="0.9" />
<line x1="357.5" y1="125.4" x2="357.5" y2="151.6" stroke="#000" stroke-width="0.9" />
<line x1="230.5" y1="107" x2="230.5" y2="169.7" stroke="#000" stroke-width="0.9" />
<path d="M228.5 131.5 L211.5 131.5 Q209.5 131.5 209.5 133.5 L209.5 142.5 Q209.5 144.5 211.5 144.5 L228.5 144.5 Z" stroke="#000" stroke-width="0.9" fill="#fff" />
<line x1="211.5" y1="131.3" x2="211.5" y2="144.5" stroke="#000" stroke-width="0.7" />
<rect x="213.5" y="136.5" width="12.0" height="4.0" stroke="#000" stroke-width="0.9" fill="none" rx="1.6"/>
<rect x="228.5" y="129.5" width="2.0" height="17.0" stroke="#000" stroke-width="0.9" fill="#fff" />
<line x1="203" y1="138.5" x2="232" y2="138.5" stroke="#000" stroke-width="0.9" />
<rect x="230.5" y="107.5" width="34.0" height="15.0" stroke="#000" stroke-width="0.9" fill="#fff" />
<rect x="255.5" y="107.5" width="9.0" height="15.0" stroke="#000" stroke-width="0.9" fill="url(#hp)" />
<path d="M264.5 122.5 L260.8 122.5 L264.5 118.6 Z" stroke="#000" stroke-width="0.5" fill="#000" />
<rect x="230.5" y="107.5" width="6.0" height="15.0" stroke="#000" stroke-width="0.9" fill="url(#hd)" />
<path d="M230.5 122.6 L230.5 128.5 L236.5 128.5 L236.5 122.6" stroke="#000" stroke-width="0.9" fill="url(#hs)" />
<rect x="236.6" y="109.8" width="19.1" height="15.6" stroke="none" stroke-width="0" fill="#000" />
<rect x="236.5" y="109.5" width="19.0" height="4.0" stroke="#000" stroke-width="0.6" fill="url(#hs)" />
<rect x="236.5" y="122.5" width="19.0" height="3.0" stroke="#000" stroke-width="0.6" fill="url(#hs)" />
<rect x="236.5" y="109.5" width="19.0" height="16.0" stroke="#000" stroke-width="1.0" fill="none" />
<rect x="236.5" y="107.5" width="19.0" height="2.0" stroke="#000" stroke-width="0.8" fill="#fff" />
<circle cx="241.2" cy="117.6" r="3.0" stroke="none" stroke-width="0" fill="#fff" />
<circle cx="251.0" cy="117.6" r="3.0" stroke="none" stroke-width="0" fill="#fff" />
<line x1="237.79999999999998" y1="117.6" x2="239.2" y2="117.6" stroke="#fff" stroke-width="1.2" />
<line x1="253.1" y1="117.6" x2="254.5" y2="117.6" stroke="#fff" stroke-width="1.2" />
<rect x="328.5" y="107.5" width="29.0" height="15.0" stroke="#000" stroke-width="0.9" fill="#fff" />
<rect x="328.5" y="107.5" width="8.0" height="15.0" stroke="#000" stroke-width="0.9" fill="url(#hp)" />
<path d="M328.5 122.5 L332.5 122.5 L328.5 118.6 Z" stroke="#000" stroke-width="0.5" fill="#000" />
<rect x="336.4" y="109.8" width="20.9" height="15.6" stroke="none" stroke-width="0" fill="#000" />
<rect x="336.5" y="109.5" width="21.0" height="4.0" stroke="#000" stroke-width="0.6" fill="url(#hs)" />
<rect x="336.5" y="122.5" width="21.0" height="3.0" stroke="#000" stroke-width="0.6" fill="url(#hs)" />
<rect x="336.5" y="109.5" width="21.0" height="16.0" stroke="#000" stroke-width="1.0" fill="none" />
<rect x="336.5" y="107.5" width="21.0" height="2.0" stroke="#000" stroke-width="0.8" fill="#fff" />
<circle cx="342.0" cy="117.6" r="3.0" stroke="none" stroke-width="0" fill="#fff" />
<circle cx="351.8" cy="117.6" r="3.0" stroke="none" stroke-width="0" fill="#fff" />
<line x1="337.59999999999997" y1="117.6" x2="339.0" y2="117.6" stroke="#fff" stroke-width="1.2" />
<line x1="354.7" y1="117.6" x2="356.1" y2="117.6" stroke="#fff" stroke-width="1.2" />
<rect x="230.5" y="154.5" width="34.0" height="15.0" stroke="#000" stroke-width="0.9" fill="#fff" />
<rect x="255.5" y="154.5" width="9.0" height="15.0" stroke="#000" stroke-width="0.9" fill="url(#hp)" />
<path d="M264.5 154.5 L260.8 154.5 L264.5 158.4 Z" stroke="#000" stroke-width="0.5" fill="#000" />
<rect x="230.5" y="154.5" width="6.0" height="15.0" stroke="#000" stroke-width="0.9" fill="url(#hd)" />
<path d="M230.5 154.4 L230.5 148.5 L236.5 148.5 L236.5 154.4" stroke="#000" stroke-width="0.9" fill="url(#hs)" />
<rect x="236.6" y="151.6" width="19.1" height="15.6" stroke="none" stroke-width="0" fill="#000" />
<rect x="236.5" y="164.5" width="19.0" height="3.0" stroke="#000" stroke-width="0.6" fill="url(#hs)" />
<rect x="236.5" y="151.5" width="19.0" height="3.0" stroke="#000" stroke-width="0.6" fill="url(#hs)" />
<rect x="236.5" y="151.5" width="19.0" height="16.0" stroke="#000" stroke-width="1.0" fill="none" />
<rect x="236.5" y="167.5" width="19.0" height="2.0" stroke="#000" stroke-width="0.8" fill="#fff" />
<circle cx="241.2" cy="159.4" r="3.0" stroke="none" stroke-width="0" fill="#fff" />
<circle cx="251.0" cy="159.4" r="3.0" stroke="none" stroke-width="0" fill="#fff" />
<line x1="237.79999999999998" y1="159.4" x2="239.2" y2="159.4" stroke="#fff" stroke-width="1.2" />
<line x1="253.1" y1="159.4" x2="254.5" y2="159.4" stroke="#fff" stroke-width="1.2" />
<rect x="328.5" y="154.5" width="29.0" height="15.0" stroke="#000" stroke-width="0.9" fill="#fff" />
<rect x="328.5" y="154.5" width="8.0" height="15.0" stroke="#000" stroke-width="0.9" fill="url(#hp)" />
<path d="M328.5 154.5 L332.5 154.5 L328.5 158.4 Z" stroke="#000" stroke-width="0.5" fill="#000" />
<rect x="336.4" y="151.6" width="20.9" height="15.6" stroke="none" stroke-width="0" fill="#000" />
<rect x="336.5" y="164.5" width="21.0" height="3.0" stroke="#000" stroke-width="0.6" fill="url(#hs)" />
<rect x="336.5" y="151.5" width="21.0" height="3.0" stroke="#000" stroke-width="0.6" fill="url(#hs)" />
<rect x="336.5" y="151.5" width="21.0" height="16.0" stroke="#000" stroke-width="1.0" fill="none" />
<rect x="336.5" y="167.5" width="21.0" height="2.0" stroke="#000" stroke-width="0.8" fill="#fff" />
<circle cx="342.0" cy="159.4" r="3.0" stroke="none" stroke-width="0" fill="#fff" />
<circle cx="351.8" cy="159.4" r="3.0" stroke="none" stroke-width="0" fill="#fff" />
<line x1="337.59999999999997" y1="159.4" x2="339.0" y2="159.4" stroke="#fff" stroke-width="1.2" />
<line x1="354.7" y1="159.4" x2="356.1" y2="159.4" stroke="#fff" stroke-width="1.2" />
<rect x="231.5" y="88.5" width="14.0" height="15.0" stroke="#000" stroke-width="0.9" fill="none" />
<rect x="229.5" y="95.5" width="2.0" height="6.0" stroke="#000" stroke-width="0.9" fill="#fff" />
<line x1="225" y1="98.5" x2="238" y2="98.5" stroke="#000" stroke-width="0.9" />
<path d="M237.5 101.5 Q238 98.5 242 96.8 Q246.3 94.6 251 96.6 Q257 98.4 259 101.5 Z" stroke="#000" stroke-width="0.6" fill="#000" />
<line x1="235.8" y1="101.5" x2="259.6" y2="101.5" stroke="#000" stroke-width="0.9" />
<line x1="236.6" y1="103.5" x2="257.6" y2="103.5" stroke="#000" stroke-width="0.9" />
<line x1="236.5" y1="101.5" x2="236.5" y2="107.3" stroke="#000" stroke-width="0.9" />
<line x1="257.5" y1="101.5" x2="257.5" y2="107.3" stroke="#000" stroke-width="0.9" />
<line x1="241.5" y1="103.4" x2="241.5" y2="107.3" stroke="#000" stroke-width="0.9" />
<line x1="251.5" y1="103.4" x2="251.5" y2="107.3" stroke="#000" stroke-width="0.9" />
<rect x="245.2" y="95.4" width="2.2" height="8.0" stroke="none" stroke-width="0" fill="#000" />
<rect x="341.5" y="96.5" width="12.0" height="6.0" stroke="#000" stroke-width="0.6" fill="#000" />
<rect x="333.5" y="99.5" width="27.0" height="2.0" stroke="#000" stroke-width="0.6" fill="#000" />
<rect x="334.5" y="97.5" width="3.0" height="2.0" stroke="#000" stroke-width="0.6" fill="#fff" />
<line x1="338.5" y1="102.2" x2="338.5" y2="107.4" stroke="#000" stroke-width="0.9" />
<line x1="355.5" y1="102.2" x2="355.5" y2="107.4" stroke="#000" stroke-width="0.9" />
<line x1="343" y1="104.5" x2="360" y2="104.5" stroke="#000" stroke-width="0.9" />
<rect x="360.5" y="103.5" width="2.0" height="6.0" stroke="#000" stroke-width="0.6" fill="#000" />
<path d="M362.8 107.8 Q369.6 108.4 372.8 113.6 L376.5 121.8 L376.5 149.8 L369.4 163.2 Q368.8 163.9 367.6 163.9 L362.8 163.9 L362.8 161.5 L366.6 161.5 Q367.4 161.5 367.8 161.0 L374.1 150.0 L374.1 122.6 L370.8 115.2 Q368.2 110.9 362.8 110.3 Z" stroke="none" stroke-width="0" fill="url(#hd)" />
<path d="M362.8 107.8 Q369.6 108.4 372.8 113.6 L376.5 121.8 L376.5 149.8 L369.4 163.2 Q368.8 163.9 367.6 163.9 L362.8 163.9" stroke="#000" stroke-width="0.9" fill="none" />
<path d="M362.8 110.3 Q368.2 110.9 370.8 115.2 L374.1 122.6 L374.1 150.0 L367.8 161.0 Q367.4 161.5 366.6 161.5 L362.8 161.5" stroke="#000" stroke-width="0.8" fill="none" />
<line x1="357.9" y1="107.5" x2="362.8" y2="107.5" stroke="#000" stroke-width="0.9" />
<rect x="357.5" y="153.5" width="5.0" height="16.0" stroke="#000" stroke-width="0.9" fill="url(#hp)" />
<path d="M357.3 153.5 L362.5 153.5 L362.5 157.4 Z" stroke="#000" stroke-width="0.4" fill="#000" />
<line x1="351.8" y1="171.5" x2="362.8" y2="171.5" stroke="#000" stroke-width="0.9" />
<line x1="362.5" y1="163.9" x2="362.5" y2="171.8" stroke="#000" stroke-width="0.9" />
<rect x="357.5" y="107.5" width="3.0" height="15.0" stroke="#000" stroke-width="0.8" fill="url(#hp)" />
<rect x="357.5" y="129.5" width="5.0" height="17.0" stroke="#000" stroke-width="0.9" fill="#fff" />
<line x1="359.5" y1="131.5" x2="359.5" y2="144.8" stroke="#000" stroke-width="0.8" />
<line x1="364.2" y1="125.6" x2="364.2" y2="147.4" stroke="#000" stroke-width="1.5" />
<line x1="368.5" y1="119.5" x2="368.5" y2="152.8" stroke="#000" stroke-width="0.9" />
<line x1="362.5" y1="122.4" x2="362.5" y2="153.6" stroke="#000" stroke-width="0.8" />
<path d="M357.3 125.4 L361 125.4 L364.2 126.4 M357.3 151.6 L361 151.6 L364.2 150.4" stroke="#000" stroke-width="0.9" fill="none" />
<path d="M360.3 111.6 Q366.4 115.6 368.4 123.6" stroke="#000" stroke-width="0.9" fill="none" />
<path d="M362.8 155.6 Q367.4 154.2 368 158.6 Q366.8 161.2 363 160.2" stroke="#000" stroke-width="0.9" fill="none" />
<rect x="357.5" y="120.5" width="4.0" height="5.0" stroke="#000" stroke-width="0.5" fill="#000" />
<rect x="357.5" y="151.5" width="4.0" height="2.0" stroke="#000" stroke-width="0.5" fill="#000" />
<path d="M341.3 169.5 L345.4 177.5 L351.5 177.5 L351.5 169.5" stroke="#000" stroke-width="0.9" fill="none" />
<line x1="347.5" y1="169.5" x2="347.5" y2="176" stroke="#000" stroke-width="0.9" />
<line x1="347.5" y1="172.5" x2="351.8" y2="172.5" stroke="#000" stroke-width="0.7" />
<path d="M230.7 165.6 L230.7 171.8 L241.8 171.8 L241.8 177.9 L247.9 177.9 L247.9 168.7 L245.4 168.7 L245.4 175.4 L244.2 175.4 L244.2 169.4 L233.4 169.4 L233.4 165.6 Z" stroke="none" stroke-width="0" fill="url(#hs)" />
<path d="M230.5 165.6 L230.5 171.5 L241.5 171.5 L241.5 177.5 L247.5 177.5 L247.5 168.7" stroke="#000" stroke-width="0.9" fill="none" />
<path d="M233.5 168.7 L233.5 169.5 L244.5 169.5 L244.5 175.5 L245.5 175.5 L245.5 168.7" stroke="#000" stroke-width="0.8" fill="none" />
<rect x="91.5" y="162.5" width="139.0" height="3.0" stroke="#000" stroke-width="0.9" fill="url(#hs)" />
<line x1="91.5" y1="165.3" x2="91.5" y2="215.3" stroke="#000" stroke-width="0.9" />
<line x1="91.3" y1="178.5" x2="241.8" y2="178.5" stroke="#000" stroke-width="0.9" />
<line x1="100.5" y1="158.5" x2="100.5" y2="215.3" stroke="#000" stroke-width="0.9" />
<line x1="220.5" y1="158.5" x2="220.5" y2="215.3" stroke="#000" stroke-width="0.9" />
<rect x="98.5" y="159.5" width="5.0" height="3.0" stroke="#000" stroke-width="0.7" fill="#fff" />
<line x1="97.6" y1="159.5" x2="104.0" y2="159.5" stroke="#000" stroke-width="0.7" />
<rect x="98.5" y="178.5" width="5.0" height="4.0" stroke="#000" stroke-width="0.6" fill="#000" />
<rect x="99.5" y="182.5" width="3.0" height="3.0" stroke="#000" stroke-width="0.6" fill="#000" />
<rect x="100.3" y="179.6" width="1.0" height="1.8" stroke="none" stroke-width="0" fill="#fff" />
<rect x="218.5" y="159.5" width="4.0" height="3.0" stroke="#000" stroke-width="0.7" fill="#fff" />
<line x1="217.20000000000002" y1="159.5" x2="223.6" y2="159.5" stroke="#000" stroke-width="0.7" />
<rect x="217.5" y="178.5" width="5.0" height="4.0" stroke="#000" stroke-width="0.6" fill="#000" />
<rect x="218.5" y="182.5" width="4.0" height="3.0" stroke="#000" stroke-width="0.6" fill="#000" />
<rect x="219.9" y="179.6" width="1.0" height="1.8" stroke="none" stroke-width="0" fill="#fff" />
<rect x="95.5" y="178.5" width="3.0" height="3.0" stroke="#000" stroke-width="0.6" fill="#000" />
<line x1="82" y1="213.5" x2="220.4" y2="213.5" stroke="#000" stroke-width="0.9" />
<path d="M91.30 213.30 L88.70 214.20 L88.70 212.40 Z" fill="#000" stroke="none"/>
<path d="M100.80 213.30 L103.40 212.40 L103.40 214.20 Z" fill="#000" stroke="none"/>
<path d="M103.40 213.30 L103.50 213.20 L103.50 213.40 Z" fill="#000" stroke="none"/>
<path d="M220.40 213.30 L217.60 214.20 L217.60 212.40 Z" fill="#000" stroke="none"/>
<text x="95.9" y="211.8" font-family="'Liberation Sans', sans-serif" font-size="6.4" font-weight="normal" text-anchor="middle" fill="#555" textLength="5.6" lengthAdjust="spacingAndGlyphs"  stroke="#555" stroke-width="0.18">30</text>
<text x="160.2" y="212.1" font-family="'Liberation Sans', sans-serif" font-size="6.4" font-weight="normal" text-anchor="middle" fill="#555" textLength="9.6" lengthAdjust="spacingAndGlyphs"  stroke="#555" stroke-width="0.18">367</text>
<text x="67.2" y="145.2" font-family="'Liberation Sans', sans-serif" font-size="6.4" font-weight="normal" text-anchor="middle" fill="#555" textLength="6.6" lengthAdjust="spacingAndGlyphs"  stroke="#555" stroke-width="0.18">03</text>
<line x1="64" y1="146.5" x2="73.8" y2="146.5" stroke="#000" stroke-width="0.9" />
<line x1="73.8" y1="146.6" x2="97.5" y2="161" stroke="#000" stroke-width="0.9" />
<path d="M97.50 161.00 L93.99 160.04 L95.03 158.33 Z" fill="#000" stroke="none"/>
<text x="67.4" y="161.2" font-family="'Liberation Sans', sans-serif" font-size="6.4" font-weight="normal" text-anchor="middle" fill="#555" textLength="6.6" lengthAdjust="spacingAndGlyphs"  stroke="#555" stroke-width="0.18">13</text>
<line x1="64.4" y1="162.5" x2="73.8" y2="162.5" stroke="#000" stroke-width="0.9" />
<line x1="73.8" y1="162.5" x2="99" y2="178.3" stroke="#000" stroke-width="0.9" />
<path d="M99.00 178.30 L95.50 177.29 L96.57 175.59 Z" fill="#000" stroke="none"/>
<text x="67.6" y="177.7" font-family="'Liberation Sans', sans-serif" font-size="6.4" font-weight="normal" text-anchor="middle" fill="#555" textLength="6.6" lengthAdjust="spacingAndGlyphs"  stroke="#555" stroke-width="0.18">14</text>
<line x1="64.8" y1="179.5" x2="95.6" y2="179.5" stroke="#000" stroke-width="0.9" />
<text x="249.3" y="193" font-family="'Liberation Sans', sans-serif" font-size="6.4" font-weight="normal" text-anchor="middle" fill="#555" textLength="6.6" lengthAdjust="spacingAndGlyphs"  stroke="#555" stroke-width="0.18">12</text>
<line x1="244" y1="194.5" x2="252.6" y2="194.5" stroke="#000" stroke-width="0.9" />
<line x1="244" y1="194.4" x2="226.4" y2="176.6" stroke="#000" stroke-width="0.9" />
<text x="410.8" y="35.2" font-family="'Liberation Sans', sans-serif" font-size="6.4" font-weight="normal" text-anchor="middle" fill="#555" textLength="6.6" lengthAdjust="spacingAndGlyphs"  stroke="#555" stroke-width="0.18">14</text>
<line x1="406.3" y1="36.5" x2="414.8" y2="36.5" stroke="#000" stroke-width="0.9" />
<line x1="406.3" y1="36.6" x2="347.8" y2="95.6" stroke="#000" stroke-width="0.9" />
<text x="410.8" y="51.3" font-family="'Liberation Sans', sans-serif" font-size="6.4" font-weight="normal" text-anchor="middle" fill="#555" textLength="6.6" lengthAdjust="spacingAndGlyphs"  stroke="#555" stroke-width="0.18">13</text>
<line x1="406.3" y1="52.5" x2="414.8" y2="52.5" stroke="#000" stroke-width="0.9" />
<line x1="406.3" y1="52.7" x2="348.8" y2="97.6" stroke="#000" stroke-width="0.9" />
<text x="410.8" y="67.8" font-family="'Liberation Sans', sans-serif" font-size="6.4" font-weight="normal" text-anchor="middle" fill="#555" textLength="6.6" lengthAdjust="spacingAndGlyphs"  stroke="#555" stroke-width="0.18">03</text>
<line x1="406.3" y1="69.5" x2="414.8" y2="69.5" stroke="#000" stroke-width="0.9" />
<line x1="406.3" y1="69.2" x2="360.6" y2="99.6" stroke="#000" stroke-width="0.9" />
<path d="M360.60 99.60 L362.96 96.83 L364.07 98.49 Z" fill="#000" stroke="none"/>
<text x="410.8" y="84.1" font-family="'Liberation Sans', sans-serif" font-size="6.4" font-weight="normal" text-anchor="middle" fill="#555" textLength="6.6" lengthAdjust="spacingAndGlyphs"  stroke="#555" stroke-width="0.18">04</text>
<line x1="406.3" y1="85.5" x2="414.8" y2="85.5" stroke="#000" stroke-width="0.9" />
<line x1="406.3" y1="85.5" x2="361.6" y2="104.6" stroke="#000" stroke-width="0.9" />
<path d="M361.60 104.60 L364.43 102.31 L365.21 104.14 Z" fill="#000" stroke="none"/>
<text x="410.8" y="100.2" font-family="'Liberation Sans', sans-serif" font-size="6.4" font-weight="normal" text-anchor="middle" fill="#555" textLength="6.6" lengthAdjust="spacingAndGlyphs"  stroke="#555" stroke-width="0.18">05</text>
<line x1="406.3" y1="101.5" x2="414.8" y2="101.5" stroke="#000" stroke-width="0.9" />
<line x1="406.3" y1="101.5" x2="361" y2="108.2" stroke="#000" stroke-width="0.9" />
<text x="410.8" y="116.7" font-family="'Liberation Sans', sans-serif" font-size="6.4" font-weight="normal" text-anchor="middle" fill="#555" textLength="6.6" lengthAdjust="spacingAndGlyphs"  stroke="#555" stroke-width="0.18">06</text>
<line x1="406.3" y1="118.5" x2="414.8" y2="118.5" stroke="#000" stroke-width="0.9" />
<line x1="406.3" y1="118.1" x2="376.3" y2="119.2" stroke="#000" stroke-width="0.9" />
<text x="410.8" y="132.8" font-family="'Liberation Sans', sans-serif" font-size="6.4" font-weight="normal" text-anchor="middle" fill="#555" textLength="6.6" lengthAdjust="spacingAndGlyphs"  stroke="#555" stroke-width="0.18">07</text>
<line x1="406.3" y1="134.5" x2="414.8" y2="134.5" stroke="#000" stroke-width="0.9" />
<line x1="406.3" y1="134.3" x2="362.7" y2="126.4" stroke="#000" stroke-width="0.9" />
<text x="410.8" y="148.8" font-family="'Liberation Sans', sans-serif" font-size="6.4" font-weight="normal" text-anchor="middle" fill="#555" textLength="6.6" lengthAdjust="spacingAndGlyphs"  stroke="#555" stroke-width="0.18">08</text>
<line x1="406.3" y1="150.5" x2="414.8" y2="150.5" stroke="#000" stroke-width="0.9" />
<line x1="406.3" y1="150.1" x2="365" y2="132" stroke="#000" stroke-width="0.9" />
<text x="334.4" y="192.7" font-family="'Liberation Sans', sans-serif" font-size="6.4" font-weight="normal" text-anchor="middle" fill="#555" textLength="6.6" lengthAdjust="spacingAndGlyphs"  stroke="#555" stroke-width="0.18">09</text>
<line x1="330.2" y1="193.5" x2="338.2" y2="193.5" stroke="#000" stroke-width="0.9" />
<line x1="330.2" y1="193.8" x2="314.6" y2="183.6" stroke="#000" stroke-width="0.9" />
<text x="356.4" y="192.7" font-family="'Liberation Sans', sans-serif" font-size="6.4" font-weight="normal" text-anchor="middle" fill="#555" textLength="6.6" lengthAdjust="spacingAndGlyphs"  stroke="#555" stroke-width="0.18">10</text>
<line x1="352" y1="193.5" x2="360" y2="193.5" stroke="#000" stroke-width="0.9" />
<line x1="352" y1="193.8" x2="340.3" y2="164.5" stroke="#000" stroke-width="0.9" />
<text x="378" y="192.7" font-family="'Liberation Sans', sans-serif" font-size="6.4" font-weight="normal" text-anchor="middle" fill="#555" textLength="6.6" lengthAdjust="spacingAndGlyphs"  stroke="#555" stroke-width="0.18">11</text>
<line x1="373.5" y1="193.5" x2="381.5" y2="193.5" stroke="#000" stroke-width="0.9" />
<line x1="373.5" y1="193.8" x2="354.9" y2="169" stroke="#000" stroke-width="0.9" />
<text x="255.4" y="93.9" font-family="'Liberation Sans', sans-serif" font-size="6.4" font-weight="normal" text-anchor="middle" fill="#555" textLength="3.6" lengthAdjust="spacingAndGlyphs"  stroke="#555" stroke-width="0.18">Б</text>
<text x="210.3" y="86.2" font-family="'Liberation Sans', sans-serif" font-size="6.4" font-weight="normal" text-anchor="middle" fill="#555" textLength="3.2" lengthAdjust="spacingAndGlyphs"  stroke="#555" stroke-width="0.18">7</text>
<path d="M215.5 80.6 L215.5 88.5 L223 88.5" stroke="#000" stroke-width="0.9" fill="none" />
<line x1="215.4" y1="80.6" x2="223" y2="88.3" stroke="#000" stroke-width="0.9" />
<line x1="207.4" y1="88.5" x2="229" y2="88.5" stroke="#000" stroke-width="0.9" />
<line x1="207.4" y1="91.5" x2="226.4" y2="91.5" stroke="#000" stroke-width="0.9" />
<line x1="229" y1="88.4" x2="244.6" y2="77.4" stroke="#000" stroke-width="0.9" />
<path d="M244.60 77.40 L242.56 80.06 L241.41 78.43 Z" fill="#000" stroke="none"/>
<text x="319.6" y="92.4" font-family="'Liberation Sans', sans-serif" font-size="6.4" font-weight="normal" text-anchor="middle" fill="#555" textLength="3.2" lengthAdjust="spacingAndGlyphs"  stroke="#555" stroke-width="0.18">7</text>
<path d="M324.5 87.2 L324.5 103 L332.2 95.1 Z" stroke="#000" stroke-width="0.9" fill="none" />
<line x1="315.9" y1="95.5" x2="337.3" y2="95.5" stroke="#000" stroke-width="0.9" />
<line x1="337.3" y1="95.1" x2="343.6" y2="78" stroke="#000" stroke-width="0.9" />
<path d="M344.00 77.00 L343.82 80.54 L341.93 79.88 Z" fill="#000" stroke="none"/>
<text x="127.7" y="70.8" font-family="'Liberation Sans', sans-serif" font-size="6.4" font-weight="normal" text-anchor="middle" fill="#555" textLength="3.2" lengthAdjust="spacingAndGlyphs"  stroke="#555" stroke-width="0.18">7</text>
<path d="M133.5 65.4 L133.5 72.5 L140.6 72.5" stroke="#000" stroke-width="0.9" fill="none" />
<line x1="133" y1="65.4" x2="140.6" y2="72.6" stroke="#000" stroke-width="0.9" />
<line x1="123.6" y1="72.5" x2="147.2" y2="72.5" stroke="#000" stroke-width="0.9" />
<line x1="126" y1="74.5" x2="147.2" y2="74.5" stroke="#000" stroke-width="0.9" />
<line x1="174.5" y1="64" x2="174.5" y2="109.5" stroke="#35c79c" stroke-width="1.0" />
<line x1="152" y1="87.5" x2="197.7" y2="87.5" stroke="#d99090" stroke-width="0.9" />
<rect x="170.5" y="83.5" width="8.0" height="8.0" stroke="#000" stroke-width="1.0" fill="none" />
<text x="112.4" y="57.4" font-family="'Liberation Sans', sans-serif" font-size="6.4" font-weight="normal" text-anchor="middle" fill="#555" textLength="23.6" lengthAdjust="spacingAndGlyphs"  stroke="#555" stroke-width="0.18">Деталь Б</text>
<text x="111.8" y="65.2" font-family="'Liberation Sans', sans-serif" font-size="6.4" font-weight="normal" text-anchor="middle" fill="#555" textLength="12.4" lengthAdjust="spacingAndGlyphs"  stroke="#555" stroke-width="0.18">1:2,5</text>
<clipPath id="cb"><circle cx="109.75" cy="94" r="22.4"/></clipPath>
<g clip-path="url(#cb)">
<rect x="85" y="70" width="50" height="48" stroke="none" stroke-width="0" fill="#fff" />
<rect x="106.5" y="71.5" width="6.0" height="5.0" stroke="#000" stroke-width="0.9" fill="#fff" />
<line x1="95.7" y1="76.5" x2="120.6" y2="76.5" stroke="#000" stroke-width="1.2" />
<line x1="96.7" y1="78.5" x2="119" y2="78.5" stroke="#000" stroke-width="0.7" />
<line x1="96.7" y1="79.5" x2="119" y2="79.5" stroke="#000" stroke-width="0.7" />
<line x1="96.7" y1="81.5" x2="118" y2="81.5" stroke="#000" stroke-width="1.2" />
<line x1="96.7" y1="82.5" x2="118" y2="82.5" stroke="#000" stroke-width="0.9" />
<line x1="85" y1="84.5" x2="135" y2="84.5" stroke="#000" stroke-width="1.0" />
<rect x="96.5" y="76.5" width="2.0" height="8.0" stroke="#000" stroke-width="0.4" fill="#000" />
<rect x="99.5" y="76.5" width="2.0" height="8.0" stroke="#000" stroke-width="0.3" fill="#000" />
<rect x="118.5" y="75.5" width="1.0" height="9.0" stroke="#000" stroke-width="0.3" fill="#000" />
<path d="M112.5 72.5 L113.5 72.5 L113.5 91.6 L114.4 93.5 L112.6 93.5 L112.5 91.6 Z" stroke="#000" stroke-width="0.4" fill="#000" />
<path d="M113.5 86.5 L116.2 86.5 L114.6 91.5 L113.5 92.5 Z" stroke="#000" stroke-width="0.4" fill="#000" />
<line x1="119.6" y1="75.0" x2="128.6" y2="82.6" stroke="#000" stroke-width="1.9" />
<line x1="85" y1="87.5" x2="100" y2="87.5" stroke="#000" stroke-width="0.9" />
<line x1="85" y1="93.5" x2="135" y2="93.5" stroke="#000" stroke-width="1.0" />
<line x1="85" y1="99.5" x2="135" y2="99.5" stroke="#000" stroke-width="0.9" />
<line x1="106.5" y1="84.5" x2="106.5" y2="93" stroke="#000" stroke-width="0.9" />
<line x1="93" y1="88.2" x2="97.3" y2="93" stroke="#000" stroke-width="0.9" />
<line x1="100" y1="85.2" x2="106.5" y2="93" stroke="#000" stroke-width="0.9" />
<line x1="96.7" y1="93" x2="92" y2="99.8" stroke="#000" stroke-width="0.9" />
<line x1="112.1" y1="93" x2="106.8" y2="99.8" stroke="#000" stroke-width="0.9" />
<line x1="126.5" y1="93" x2="121.7" y2="99.8" stroke="#000" stroke-width="0.9" />
<rect x="97.5" y="100.5" width="31.0" height="8.0" stroke="#000" stroke-width="0.9" fill="url(#hs)" />
<line x1="93.6" y1="108.5" x2="128" y2="108.5" stroke="#000" stroke-width="0.9" />
<rect x="95.5" y="98.5" width="2.0" height="8.0" stroke="#000" stroke-width="0.4" fill="#000" />
<path d="M91.4 101 Q94.6 101.5 93 103.2 Q95 104.4 92.6 106 Q94 107.4 91.6 108" stroke="#000" stroke-width="0.7" fill="none" />
<line x1="104.7" y1="109.4" x2="106.3" y2="117" stroke="#000" stroke-width="0.9" />
<line x1="113.2" y1="109.4" x2="112.1" y2="117" stroke="#000" stroke-width="0.9" />
<line x1="99" y1="109.4" x2="101" y2="114" stroke="#000" stroke-width="0.9" />
<line x1="119.5" y1="109.4" x2="118" y2="114" stroke="#000" stroke-width="0.9" />
</g>
<circle cx="109.75" cy="94" r="22.5" stroke="#000" stroke-width="1.0" fill="none" />
<text x="518.6" y="39.7" font-family="'Liberation Sans', sans-serif" font-size="6.4" font-weight="normal" text-anchor="middle" fill="#555" textLength="9.8" lengthAdjust="spacingAndGlyphs"  stroke="#555" stroke-width="0.18">360</text>
<line x1="460.5" y1="39.3" x2="460.5" y2="162.4" stroke="#000" stroke-width="0.9" />
<line x1="577.5" y1="38.9" x2="577.5" y2="156" stroke="#000" stroke-width="0.9" />
<line x1="460.8" y1="41.5" x2="577.6" y2="41.5" stroke="#000" stroke-width="0.9" />
<rect x="462.20" y="40.20" width="2.8" height="2.6" rx="0.7" fill="#000"/>
<rect x="573.20" y="40.20" width="2.8" height="2.6" rx="0.7" fill="#000"/>
<line x1="460.8" y1="54.5" x2="556.4" y2="54.5" stroke="#000" stroke-width="0.9" />
<line x1="480.5" y1="51.5" x2="480.5" y2="85.8" stroke="#000" stroke-width="0.9" />
<line x1="556.5" y1="51.5" x2="556.5" y2="85.8" stroke="#000" stroke-width="0.9" />
<line x1="518.5" y1="51.5" x2="518.5" y2="197.5" stroke="#000" stroke-width="0.9" />
<rect x="462.40" y="53.20" width="2.8" height="2.6" rx="0.7" fill="#000"/>
<rect x="476.00" y="53.20" width="2.8" height="2.6" rx="0.7" fill="#000"/>
<rect x="482.00" y="53.20" width="2.8" height="2.6" rx="0.7" fill="#000"/>
<rect x="514.30" y="53.20" width="2.8" height="2.6" rx="0.7" fill="#000"/>
<rect x="520.30" y="53.20" width="2.8" height="2.6" rx="0.7" fill="#000"/>
<rect x="552.00" y="53.20" width="2.8" height="2.6" rx="0.7" fill="#000"/>
<text x="470.3" y="52.6" font-family="'Liberation Sans', sans-serif" font-size="6.4" font-weight="normal" text-anchor="middle" fill="#555" textLength="6.4" lengthAdjust="spacingAndGlyphs"  stroke="#555" stroke-width="0.18">63</text>
<text x="499.3" y="52.6" font-family="'Liberation Sans', sans-serif" font-size="6.4" font-weight="normal" text-anchor="middle" fill="#555" textLength="9" lengthAdjust="spacingAndGlyphs"  stroke="#555" stroke-width="0.18">117</text>
<text x="537.4" y="52.6" font-family="'Liberation Sans', sans-serif" font-size="6.4" font-weight="normal" text-anchor="middle" fill="#555" textLength="9" lengthAdjust="spacingAndGlyphs"  stroke="#555" stroke-width="0.18">117</text>
<text x="564.3" y="52.6" font-family="'Liberation Sans', sans-serif" font-size="6.4" font-weight="normal" text-anchor="middle" fill="#555" textLength="3.2" lengthAdjust="spacingAndGlyphs"  stroke="#555" stroke-width="0.18">8</text>
<line x1="562.2" y1="54.5" x2="585.6" y2="54.5" stroke="#000" stroke-width="0.9" />
<line x1="575.5" y1="52.5" x2="575.5" y2="164.7" stroke="#000" stroke-width="0.9" />
<rect x="570.80" y="53.20" width="2.8" height="2.6" rx="0.7" fill="#000"/>
<rect x="579.40" y="53.20" width="2.8" height="2.6" rx="0.7" fill="#000"/>
<line x1="518.7" y1="62.5" x2="535.9" y2="62.5" stroke="#000" stroke-width="0.9" />
<rect x="520.40" y="61.20" width="2.8" height="2.6" rx="0.7" fill="#000"/>
<text x="529.3" y="60.4" font-family="'Liberation Sans', sans-serif" font-size="6.4" font-weight="normal" text-anchor="middle" fill="#555" textLength="4.2" lengthAdjust="spacingAndGlyphs"  stroke="#555" stroke-width="0.18">A</text>
<line x1="518.5" y1="203.4" x2="518.5" y2="219.7" stroke="#000" stroke-width="0.9" />
<line x1="518.7" y1="211.5" x2="536.1" y2="211.5" stroke="#000" stroke-width="0.9" />
<rect x="520.40" y="210.20" width="2.8" height="2.6" rx="0.7" fill="#000"/>
<text x="528.9" y="209.2" font-family="'Liberation Sans', sans-serif" font-size="6.4" font-weight="normal" text-anchor="middle" fill="#555" textLength="4.2" lengthAdjust="spacingAndGlyphs"  stroke="#555" stroke-width="0.18">A</text>
<line x1="460.8" y1="72.5" x2="577.6" y2="72.5" stroke="#000" stroke-width="0.9" />
<line x1="424" y1="76.5" x2="577.6" y2="76.5" stroke="#000" stroke-width="0.9" />
<line x1="424" y1="76.5" x2="460.8" y2="76.5" stroke="#000" stroke-width="0.9" />
<line x1="424" y1="88.5" x2="462.2" y2="88.5" stroke="#000" stroke-width="0.9" />
<line x1="426.5" y1="76.4" x2="426.5" y2="88" stroke="#000" stroke-width="0.9" />
<rect x="425.30" y="77.00" width="2.4" height="2.6" rx="0.7" fill="#000"/>
<rect x="425.30" y="84.90" width="2.4" height="2.6" rx="0.7" fill="#000"/>
<text x="424.4" y="82.6" font-family="'Liberation Sans', sans-serif" font-size="6.4" font-weight="normal" text-anchor="middle" fill="#555" textLength="5.6" lengthAdjust="spacingAndGlyphs" transform="rotate(-90 424.4 82.6)"  stroke="#555" stroke-width="0.18">36</text>
<rect x="462.5" y="88.5" width="13.0" height="90.0" stroke="#000" stroke-width="0.9" fill="none" />
<rect x="561.5" y="88.5" width="14.0" height="90.0" stroke="#000" stroke-width="0.9" fill="none" />
<circle cx="518.7" cy="138" r="18.4" stroke="#000" stroke-width="0.9" fill="none" />
<circle cx="518.7" cy="138" r="20" stroke="#000" stroke-width="0.9" fill="none" />
<circle cx="518.7" cy="138" r="27.2" stroke="#000" stroke-width="0.9" fill="none" />
<circle cx="518.7" cy="138" r="33.5" stroke="#000" stroke-width="0.9" fill="none" />
<circle cx="518.7" cy="138" r="38.6" stroke="#000" stroke-width="0.9" fill="none" />
<circle cx="518.7" cy="138" r="40.8" stroke="#000" stroke-width="0.9" fill="none" />
<circle cx="518.7" cy="138" r="9.2" stroke="#000" stroke-width="1.2" fill="none" />
<circle cx="518.7" cy="138" r="7.3" stroke="#000" stroke-width="0.9" fill="none" />
<circle cx="518.7" cy="138" r="4.5" stroke="#000" stroke-width="1.0" fill="none" />
<line x1="515.73" y1="135.03" x2="521.67" y2="140.97" stroke="#000" stroke-width="0.6" />
<line x1="521.67" y1="135.03" x2="515.73" y2="140.97" stroke="#000" stroke-width="0.6" />
<line x1="433.9" y1="138.5" x2="578" y2="138.5" stroke="#000" stroke-width="0.9" />
<circle cx="551.35" cy="119.15" r="2.9" stroke="#000" stroke-width="1.1" fill="#fff" />
<path d="M553.08 120.15 L551.35 121.15 L549.62 120.15 L549.62 118.15 L551.35 117.15 L553.08 118.15 Z" stroke="#000" stroke-width="0.8" fill="none" />
<circle cx="518.7" cy="100.3" r="2.9" stroke="#000" stroke-width="1.1" fill="#fff" />
<path d="M518.7 102.3 L516.97 101.3 L516.97 99.3 L518.7 98.3 L520.43 99.3 L520.43 101.3 Z" stroke="#000" stroke-width="0.8" fill="none" />
<circle cx="486.05" cy="119.15" r="2.9" stroke="#000" stroke-width="1.1" fill="#fff" />
<path d="M484.32 120.15 L484.32 118.15 L486.05 117.15 L487.78 118.15 L487.78 120.15 L486.05 121.15 Z" stroke="#000" stroke-width="0.8" fill="none" />
<circle cx="486.05" cy="156.85" r="2.9" stroke="#000" stroke-width="1.1" fill="#fff" />
<path d="M484.32 155.85 L486.05 154.85 L487.78 155.85 L487.78 157.85 L486.05 158.85 L484.32 157.85 Z" stroke="#000" stroke-width="0.8" fill="none" />
<circle cx="551.35" cy="156.85" r="2.9" stroke="#000" stroke-width="1.1" fill="#fff" />
<path d="M553.08 155.85 L553.08 157.85 L551.35 158.85 L549.62 157.85 L549.62 155.85 L551.35 154.85 Z" stroke="#000" stroke-width="0.8" fill="none" />
<circle cx="469.5" cy="97.5" r="2.7" stroke="#000" stroke-width="0.9" fill="#fff" />
<line x1="465.8" y1="97.5" x2="473.2" y2="97.5" stroke="#000" stroke-width="0.7" />
<line x1="469.5" y1="93.8" x2="469.5" y2="101.2" stroke="#000" stroke-width="0.7" />
<circle cx="568.5" cy="97.5" r="2.7" stroke="#000" stroke-width="0.9" fill="#fff" />
<line x1="564.8" y1="97.5" x2="572.2" y2="97.5" stroke="#000" stroke-width="0.7" />
<line x1="568.5" y1="93.8" x2="568.5" y2="101.2" stroke="#000" stroke-width="0.7" />
<circle cx="469.5" cy="119.5" r="2.7" stroke="#000" stroke-width="0.9" fill="#fff" />
<line x1="465.8" y1="119.5" x2="473.2" y2="119.5" stroke="#000" stroke-width="0.7" />
<line x1="469.5" y1="115.8" x2="469.5" y2="123.2" stroke="#000" stroke-width="0.7" />
<circle cx="568.5" cy="119.5" r="2.7" stroke="#000" stroke-width="0.9" fill="#fff" />
<line x1="564.8" y1="119.5" x2="572.2" y2="119.5" stroke="#000" stroke-width="0.7" />
<line x1="568.5" y1="115.8" x2="568.5" y2="123.2" stroke="#000" stroke-width="0.7" />
<circle cx="469.5" cy="141.5" r="2.7" stroke="#000" stroke-width="0.9" fill="#fff" />
<line x1="465.8" y1="141.5" x2="473.2" y2="141.5" stroke="#000" stroke-width="0.7" />
<line x1="469.5" y1="137.8" x2="469.5" y2="145.2" stroke="#000" stroke-width="0.7" />
<circle cx="568.5" cy="141.5" r="2.7" stroke="#000" stroke-width="0.9" fill="#fff" />
<line x1="564.8" y1="141.5" x2="572.2" y2="141.5" stroke="#000" stroke-width="0.7" />
<line x1="568.5" y1="137.8" x2="568.5" y2="145.2" stroke="#000" stroke-width="0.7" />
<rect x="460.5" y="162.5" width="115.0" height="2.0" stroke="#000" stroke-width="0.9" fill="#fff" />
<line x1="462.2" y1="178.5" x2="597.5" y2="178.5" stroke="#000" stroke-width="0.9" />
<path d="M478.28 178.9 A57.5 57.5 0 0 0 559.12 178.9" stroke="#000" stroke-width="0.9" fill="none" />
<path d="M488.74 178.9 A50.7 50.7 0 0 0 548.66 178.9" stroke="#000" stroke-width="0.9" fill="none" />
<line x1="469.5" y1="158.3" x2="469.5" y2="189" stroke="#000" stroke-width="0.9" />
<rect x="466.5" y="159.5" width="5.0" height="3.0" stroke="#000" stroke-width="0.7" fill="#fff" />
<line x1="466" y1="159.5" x2="472" y2="159.5" stroke="#000" stroke-width="0.7" />
<rect x="466.5" y="178.5" width="5.0" height="3.0" stroke="#000" stroke-width="0.7" fill="#fff" />
<rect x="467.4" y="181.4" width="3.2" height="7.2" stroke="#000" stroke-width="0.6" fill="#000" />
<line x1="568.5" y1="158.3" x2="568.5" y2="189" stroke="#000" stroke-width="0.9" />
<rect x="566.5" y="159.5" width="4.0" height="3.0" stroke="#000" stroke-width="0.7" fill="#fff" />
<line x1="565.4" y1="159.5" x2="571.4" y2="159.5" stroke="#000" stroke-width="0.7" />
<rect x="566.5" y="178.5" width="4.0" height="3.0" stroke="#000" stroke-width="0.7" fill="#fff" />
<rect x="566.8" y="181.4" width="3.2" height="7.2" stroke="#000" stroke-width="0.6" fill="#000" />
<line x1="491.4" y1="83.2" x2="517.5" y2="135.6" stroke="#000" stroke-width="0.9" />
<text x="495.6" y="90.4" font-family="'Liberation Sans', sans-serif" font-size="6.4" font-weight="normal" text-anchor="middle" fill="#555" textLength="11.6" lengthAdjust="spacingAndGlyphs" transform="rotate(64 495.6 90.4)"  stroke="#555" stroke-width="0.18">R115</text>
<line x1="445.5" y1="96" x2="486.0" y2="119.2" stroke="#000" stroke-width="0.9" />
<path d="M445.7 95.9 A84.4 84.4 0 0 0 434.3 138" stroke="#000" stroke-width="0.9" fill="none" />
<path d="M445.70 95.90 L445.74 96.04 L445.56 95.94 Z" fill="#000" stroke="none"/>
<rect x="444.6" y="95.4" width="2.0" height="2.2" stroke="none" stroke-width="0" fill="#000" />
<rect x="433.6" y="134.6" width="1.6" height="2.8" stroke="none" stroke-width="0" fill="#000" />
<text x="436.8" y="117.6" font-family="'Liberation Sans', sans-serif" font-size="6.4" font-weight="normal" text-anchor="middle" fill="#555" textLength="7.4" lengthAdjust="spacingAndGlyphs" transform="rotate(-76 436.8 117.6)"  stroke="#555" stroke-width="0.18">30°</text>
<text x="617.9" y="60.5" font-family="'Liberation Sans', sans-serif" font-size="6.4" font-weight="normal" text-anchor="middle" fill="#555" textLength="6" lengthAdjust="spacingAndGlyphs"  stroke="#555" stroke-width="0.18">01</text>
<line x1="614.7" y1="62.5" x2="621.4" y2="62.5" stroke="#000" stroke-width="0.9" />
<line x1="614.7" y1="62.1" x2="568.6" y2="74.2" stroke="#000" stroke-width="0.9" />
<path d="M568.60 74.20 L571.73 72.34 L572.24 74.28 Z" fill="#000" stroke="none"/>
<text x="617.9" y="71.8" font-family="'Liberation Sans', sans-serif" font-size="6.4" font-weight="normal" text-anchor="middle" fill="#555" textLength="6" lengthAdjust="spacingAndGlyphs"  stroke="#555" stroke-width="0.18">02</text>
<line x1="614.7" y1="73.5" x2="621.4" y2="73.5" stroke="#000" stroke-width="0.9" />
<line x1="614.7" y1="73.4" x2="567.6" y2="85.4" stroke="#000" stroke-width="0.9" />
<path d="M567.60 85.40 L570.74 83.57 L571.24 85.50 Z" fill="#000" stroke="none"/>
<line x1="595.5" y1="80.1" x2="595.5" y2="178.4" stroke="#000" stroke-width="0.9" />
<line x1="561.2" y1="88.5" x2="597.5" y2="88.5" stroke="#000" stroke-width="0.9" />
<line x1="568.4" y1="97.5" x2="597.5" y2="97.5" stroke="#000" stroke-width="0.9" />
<line x1="568.4" y1="119.5" x2="597.5" y2="119.5" stroke="#000" stroke-width="0.9" />
<line x1="568.4" y1="141.5" x2="597.5" y2="141.5" stroke="#000" stroke-width="0.9" />
<rect x="594.7" y="84.6" width="1.8" height="2.6" stroke="none" stroke-width="0" fill="#000" />
<rect x="594.7" y="98.6" width="1.8" height="2.6" stroke="none" stroke-width="0" fill="#000" />
<rect x="594.7" y="116.2" width="1.8" height="2.6" stroke="none" stroke-width="0" fill="#000" />
<rect x="594.7" y="120.4" width="1.8" height="2.6" stroke="none" stroke-width="0" fill="#000" />
<rect x="594.7" y="138.2" width="1.8" height="2.6" stroke="none" stroke-width="0" fill="#000" />
<rect x="594.7" y="142.4" width="1.8" height="2.6" stroke="none" stroke-width="0" fill="#000" />
<rect x="594.7" y="174.8" width="1.8" height="2.6" stroke="none" stroke-width="0" fill="#000" />
<text x="593.9" y="92.8" font-family="'Liberation Sans', sans-serif" font-size="6.4" font-weight="normal" text-anchor="middle" fill="#555" textLength="5.6" lengthAdjust="spacingAndGlyphs" transform="rotate(-90 593.9 92.8)"  stroke="#555" stroke-width="0.18">30</text>
<text x="593.9" y="108.6" font-family="'Liberation Sans', sans-serif" font-size="6.4" font-weight="normal" text-anchor="middle" fill="#555" textLength="5.6" lengthAdjust="spacingAndGlyphs" transform="rotate(-90 593.9 108.6)"  stroke="#555" stroke-width="0.18">67</text>
<text x="593.9" y="130.6" font-family="'Liberation Sans', sans-serif" font-size="6.4" font-weight="normal" text-anchor="middle" fill="#555" textLength="5.6" lengthAdjust="spacingAndGlyphs" transform="rotate(-90 593.9 130.6)"  stroke="#555" stroke-width="0.18">67</text>
<text x="593.9" y="160" font-family="'Liberation Sans', sans-serif" font-size="6.4" font-weight="normal" text-anchor="middle" fill="#555" textLength="8.6" lengthAdjust="spacingAndGlyphs" transform="rotate(-90 593.9 160)"  stroke="#555" stroke-width="0.18">113</text>
<line x1="58.3" y1="259.5" x2="230.3" y2="259.5" stroke="#000" stroke-width="0.9" />
<line x1="58.3" y1="372.5" x2="230.3" y2="372.5" stroke="#000" stroke-width="0.9" />
<line x1="91.5" y1="259.5" x2="91.5" y2="407.4" stroke="#000" stroke-width="0.9" />
<line x1="60.5" y1="259.5" x2="60.5" y2="372.2" stroke="#000" stroke-width="0.9" />
<line x1="73.5" y1="266.7" x2="73.5" y2="365.2" stroke="#000" stroke-width="0.9" />
<line x1="71.2" y1="266.5" x2="100.5" y2="266.5" stroke="#000" stroke-width="0.9" />
<line x1="71.2" y1="365.5" x2="100.5" y2="365.5" stroke="#000" stroke-width="0.9" />
<rect x="59.6" y="260" width="1.6" height="2.6" stroke="none" stroke-width="0" fill="#000" />
<rect x="59.6" y="369.2" width="1.6" height="2.6" stroke="none" stroke-width="0" fill="#000" />
<rect x="72.6" y="267.2" width="1.6" height="2.6" stroke="none" stroke-width="0" fill="#000" />
<rect x="72.6" y="362.2" width="1.6" height="2.6" stroke="none" stroke-width="0" fill="#000" />
<text x="58.6" y="315.4" font-family="'Liberation Sans', sans-serif" font-size="6.4" font-weight="normal" text-anchor="middle" fill="#555" textLength="8.6" lengthAdjust="spacingAndGlyphs" transform="rotate(-90 58.6 315.4)"  stroke="#555" stroke-width="0.18">345</text>
<text x="71.6" y="315.4" font-family="'Liberation Sans', sans-serif" font-size="6.4" font-weight="normal" text-anchor="middle" fill="#555" textLength="8.6" lengthAdjust="spacingAndGlyphs" transform="rotate(-90 71.6 315.4)"  stroke="#555" stroke-width="0.18">345</text>
<circle cx="100.5" cy="266.5" r="2.5" stroke="#000" stroke-width="0.9" fill="#fff" />
<line x1="97.0" y1="266.5" x2="104.0" y2="266.5" stroke="#000" stroke-width="0.7" />
<line x1="100.5" y1="263.0" x2="100.5" y2="270.0" stroke="#000" stroke-width="0.7" />
<circle cx="100.5" cy="365.5" r="2.5" stroke="#000" stroke-width="0.9" fill="#fff" />
<line x1="97.0" y1="365.5" x2="104.0" y2="365.5" stroke="#000" stroke-width="0.7" />
<line x1="100.5" y1="362.0" x2="100.5" y2="369.0" stroke="#000" stroke-width="0.7" />
<circle cx="220.5" cy="265.5" r="2.5" stroke="#000" stroke-width="0.9" fill="#fff" />
<line x1="217.0" y1="265.5" x2="224.0" y2="265.5" stroke="#000" stroke-width="0.7" />
<line x1="220.5" y1="262.0" x2="220.5" y2="269.0" stroke="#000" stroke-width="0.7" />
<circle cx="220.5" cy="365.5" r="2.5" stroke="#000" stroke-width="0.9" fill="#fff" />
<line x1="217.0" y1="365.5" x2="224.0" y2="365.5" stroke="#000" stroke-width="0.7" />
<line x1="220.5" y1="362.0" x2="220.5" y2="369.0" stroke="#000" stroke-width="0.7" />
<line x1="63" y1="315.5" x2="394.8" y2="315.5" stroke="#000" stroke-width="0.9" stroke-dasharray="39.6 3.7 1.3 3.9"/>
<line x1="230.5" y1="236.7" x2="230.5" y2="393.8" stroke="#000" stroke-width="0.9" />
<line x1="238.5" y1="236.7" x2="238.5" y2="374.6" stroke="#000" stroke-width="0.9" />
<path d="M238 257.5 L355.5 257.5 L355.5 374.5 L238 374.5" stroke="#000" stroke-width="0.9" fill="none" />
<line x1="355.5" y1="236.3" x2="355.5" y2="257.1" stroke="#000" stroke-width="0.9" />
<circle cx="271.5" cy="277.5" r="2.5" stroke="#000" stroke-width="0.9" fill="#fff" />
<line x1="268.0" y1="277.5" x2="275.0" y2="277.5" stroke="#000" stroke-width="0.7" />
<line x1="271.5" y1="274.0" x2="271.5" y2="281.0" stroke="#000" stroke-width="0.7" />
<circle cx="271.5" cy="315.5" r="2.5" stroke="#000" stroke-width="0.9" fill="#fff" />
<line x1="268.0" y1="315.5" x2="275.0" y2="315.5" stroke="#000" stroke-width="0.7" />
<line x1="271.5" y1="312.0" x2="271.5" y2="319.0" stroke="#000" stroke-width="0.7" />
<circle cx="271.5" cy="354.5" r="2.5" stroke="#000" stroke-width="0.9" fill="#fff" />
<line x1="268.0" y1="354.5" x2="275.0" y2="354.5" stroke="#000" stroke-width="0.7" />
<line x1="271.5" y1="351.0" x2="271.5" y2="358.0" stroke="#000" stroke-width="0.7" />
<circle cx="320.5" cy="277.5" r="2.5" stroke="#000" stroke-width="0.9" fill="#fff" />
<line x1="317.0" y1="277.5" x2="324.0" y2="277.5" stroke="#000" stroke-width="0.7" />
<line x1="320.5" y1="274.0" x2="320.5" y2="281.0" stroke="#000" stroke-width="0.7" />
<circle cx="320.5" cy="315.5" r="2.5" stroke="#000" stroke-width="0.9" fill="#fff" />
<line x1="317.0" y1="315.5" x2="324.0" y2="315.5" stroke="#000" stroke-width="0.7" />
<line x1="320.5" y1="312.0" x2="320.5" y2="319.0" stroke="#000" stroke-width="0.7" />
<circle cx="320.5" cy="354.5" r="2.5" stroke="#000" stroke-width="0.9" fill="#fff" />
<line x1="317.0" y1="354.5" x2="324.0" y2="354.5" stroke="#000" stroke-width="0.7" />
<line x1="320.5" y1="351.0" x2="320.5" y2="358.0" stroke="#000" stroke-width="0.7" />
<line x1="320.5" y1="236.3" x2="320.5" y2="277.8" stroke="#000" stroke-width="0.9" />
<line x1="222" y1="239.5" x2="254" y2="239.5" stroke="#000" stroke-width="0.9" />
<path d="M230.30 239.10 L227.70 240.00 L227.70 238.20 Z" fill="#000" stroke="none"/>
<path d="M238.00 239.10 L240.60 238.20 L240.60 240.00 Z" fill="#000" stroke="none"/>
<text x="249.8" y="237.8" font-family="'Liberation Sans', sans-serif" font-size="6.4" font-weight="normal" text-anchor="middle" fill="#555" textLength="5.8" lengthAdjust="spacingAndGlyphs"  stroke="#555" stroke-width="0.18">23</text>
<line x1="320.5" y1="238.5" x2="355.7" y2="238.5" stroke="#000" stroke-width="0.9" />
<path d="M320.50 238.60 L323.10 237.70 L323.10 239.50 Z" fill="#000" stroke="none"/>
<path d="M355.70 238.60 L353.10 239.50 L353.10 237.70 Z" fill="#000" stroke="none"/>
<text x="337.7" y="237.8" font-family="'Liberation Sans', sans-serif" font-size="6.4" font-weight="normal" text-anchor="middle" fill="#555" textLength="9.4" lengthAdjust="spacingAndGlyphs"  stroke="#555" stroke-width="0.18">105</text>
<rect x="228.5" y="260.5" width="2.0" height="11.0" stroke="#000" stroke-width="0.5" fill="#000" />
<line x1="226.6" y1="265.5" x2="245.5" y2="265.5" stroke="#000" stroke-width="0.9" />
<rect x="228.5" y="359.5" width="2.0" height="11.0" stroke="#000" stroke-width="0.5" fill="#000" />
<line x1="226.6" y1="365.5" x2="245.5" y2="365.5" stroke="#000" stroke-width="0.9" />
<rect x="231.5" y="272.5" width="7.0" height="9.0" stroke="#000" stroke-width="0.9" fill="none" />
<rect x="231.5" y="350.5" width="7.0" height="9.0" stroke="#000" stroke-width="0.9" fill="none" />
<line x1="230.3" y1="266.5" x2="238" y2="266.5" stroke="#000" stroke-width="0.9" />
<line x1="230.3" y1="271.5" x2="238" y2="271.5" stroke="#000" stroke-width="0.9" />
<line x1="230.3" y1="359.5" x2="238" y2="359.5" stroke="#000" stroke-width="0.9" />
<path d="M228.5 309.5 L211.5 309.5 Q209.5 309.5 209.5 311.5 L209.5 321.5 Q209.5 323.5 211.5 323.5 L228.5 323.5" stroke="#000" stroke-width="0.9" fill="#fff" />
<line x1="211.5" y1="309" x2="211.5" y2="323" stroke="#000" stroke-width="0.7" />
<path d="M230.3 305.6 Q227.4 315.3 230.3 325.4 Z" stroke="#000" stroke-width="0.6" fill="#000" />
<rect x="228.5" y="306.5" width="2.0" height="18.0" stroke="#000" stroke-width="0.4" fill="#000" />
<line x1="209.5" y1="323.5" x2="209.5" y2="393.8" stroke="#000" stroke-width="0.9" />
<line x1="209.4" y1="392.5" x2="230.3" y2="392.5" stroke="#000" stroke-width="0.9" />
<path d="M209.40 392.20 L212.00 391.30 L212.00 393.10 Z" fill="#000" stroke="none"/>
<path d="M230.30 392.20 L227.70 393.10 L227.70 391.30 Z" fill="#000" stroke="none"/>
<text x="219.3" y="390.8" font-family="'Liberation Sans', sans-serif" font-size="6.4" font-weight="normal" text-anchor="middle" fill="#555" textLength="5.8" lengthAdjust="spacingAndGlyphs"  stroke="#555" stroke-width="0.18">63</text>
<line x1="91.6" y1="405.5" x2="376.8" y2="405.5" stroke="#000" stroke-width="0.9" />
<rect x="93.20" y="404.20" width="2.8" height="2.6" rx="0.7" fill="#000"/>
<rect x="372.40" y="404.20" width="2.8" height="2.6" rx="0.7" fill="#000"/>
<text x="233.4" y="403.7" font-family="'Liberation Sans', sans-serif" font-size="6.4" font-weight="normal" text-anchor="middle" fill="#555" textLength="9.4" lengthAdjust="spacingAndGlyphs"  stroke="#555" stroke-width="0.18">876</text>
<path d="M355.7 281.5 L362.5 281.5 L362.5 350.5 L355.7 350.5" stroke="#000" stroke-width="0.9" fill="none" />
<path d="M362.7 287.5 L369.7 287.5 L376.5 301.2 L376.5 407.4" stroke="#000" stroke-width="0.9" fill="none" />
<path d="M362.7 343.5 L369.7 343.5 L376.8 330.4" stroke="#000" stroke-width="0.9" fill="none" />
<line x1="369.5" y1="287.9" x2="369.5" y2="343.4" stroke="#000" stroke-width="0.9" />
<text x="133.4" y="245.2" font-family="'Liberation Sans', sans-serif" font-size="6.4" font-weight="normal" text-anchor="middle" fill="#555" textLength="5.6" lengthAdjust="spacingAndGlyphs"  stroke="#555" stroke-width="0.18">16</text>
<line x1="131" y1="247.5" x2="138.6" y2="247.5" stroke="#000" stroke-width="0.9" />
<line x1="138.6" y1="247.3" x2="167.8" y2="276.1" stroke="#000" stroke-width="0.9" />
<path d="M167.80 276.10 L164.61 274.35 L166.01 272.93 Z" fill="#000" stroke="none"/>
<text x="190.7" y="245.2" font-family="'Liberation Sans', sans-serif" font-size="6.4" font-weight="normal" text-anchor="middle" fill="#555" textLength="6" lengthAdjust="spacingAndGlyphs"  stroke="#555" stroke-width="0.18">03</text>
<line x1="188.3" y1="247.5" x2="196.4" y2="247.5" stroke="#000" stroke-width="0.9" />
<line x1="196.4" y1="247.3" x2="228.2" y2="265.3" stroke="#000" stroke-width="0.9" />
<path d="M228.20 265.30 L224.66 264.45 L225.65 262.71 Z" fill="#000" stroke="none"/>
<text x="385" y="267.4" font-family="'Liberation Sans', sans-serif" font-size="6.4" font-weight="normal" text-anchor="middle" fill="#555" textLength="6" lengthAdjust="spacingAndGlyphs"  stroke="#555" stroke-width="0.18">15</text>
<line x1="381" y1="268.5" x2="389.2" y2="268.5" stroke="#000" stroke-width="0.9" />
<line x1="381" y1="268.9" x2="369.7" y2="287.9" stroke="#000" stroke-width="0.9" />
</svg>
</div>
</body></html>
